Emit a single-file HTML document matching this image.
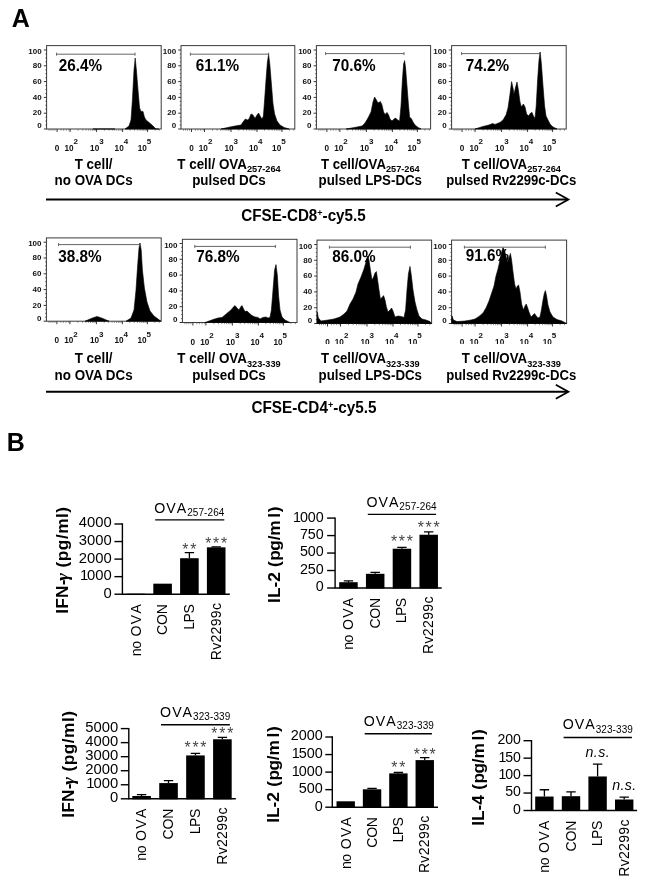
<!DOCTYPE html>
<html><head><meta charset="utf-8"><title>Figure</title>
<style>html,body{margin:0;padding:0;background:#fff}svg{display:block;will-change:transform}text{font-family:"Liberation Sans", sans-serif}</style>
</head><body>
<svg width="650" height="886" viewBox="0 0 650 886">
<rect width="650" height="886" fill="#fff"/>
<text transform="translate(11.8,27.4) scale(1,1.04)" font-size="25" font-weight="bold">A</text>
<text transform="translate(6.8,451) scale(1,1.04)" font-size="25" font-weight="bold">B</text>
<rect x="46.6" y="45.6" width="114.6" height="83.4" fill="#fff" stroke="#3a3a3a" stroke-width="1"/>
<line x1="43.8" y1="129.0" x2="46.6" y2="129.0" stroke="#222" stroke-width="0.9"/>
<line x1="45.4" y1="125.0" x2="46.6" y2="125.0" stroke="#222" stroke-width="0.7"/>
<line x1="45.4" y1="121.1" x2="46.6" y2="121.1" stroke="#222" stroke-width="0.7"/>
<line x1="45.4" y1="117.2" x2="46.6" y2="117.2" stroke="#222" stroke-width="0.7"/>
<line x1="43.8" y1="113.2" x2="46.6" y2="113.2" stroke="#222" stroke-width="0.9"/>
<line x1="45.4" y1="109.2" x2="46.6" y2="109.2" stroke="#222" stroke-width="0.7"/>
<line x1="45.4" y1="105.3" x2="46.6" y2="105.3" stroke="#222" stroke-width="0.7"/>
<line x1="45.4" y1="101.3" x2="46.6" y2="101.3" stroke="#222" stroke-width="0.7"/>
<line x1="43.8" y1="97.4" x2="46.6" y2="97.4" stroke="#222" stroke-width="0.9"/>
<line x1="45.4" y1="93.5" x2="46.6" y2="93.5" stroke="#222" stroke-width="0.7"/>
<line x1="45.4" y1="89.5" x2="46.6" y2="89.5" stroke="#222" stroke-width="0.7"/>
<line x1="45.4" y1="85.5" x2="46.6" y2="85.5" stroke="#222" stroke-width="0.7"/>
<line x1="43.8" y1="81.6" x2="46.6" y2="81.6" stroke="#222" stroke-width="0.9"/>
<line x1="45.4" y1="77.7" x2="46.6" y2="77.7" stroke="#222" stroke-width="0.7"/>
<line x1="45.4" y1="73.7" x2="46.6" y2="73.7" stroke="#222" stroke-width="0.7"/>
<line x1="45.4" y1="69.8" x2="46.6" y2="69.8" stroke="#222" stroke-width="0.7"/>
<line x1="43.8" y1="65.8" x2="46.6" y2="65.8" stroke="#222" stroke-width="0.9"/>
<line x1="45.4" y1="61.8" x2="46.6" y2="61.8" stroke="#222" stroke-width="0.7"/>
<line x1="45.4" y1="57.9" x2="46.6" y2="57.9" stroke="#222" stroke-width="0.7"/>
<line x1="45.4" y1="54.0" x2="46.6" y2="54.0" stroke="#222" stroke-width="0.7"/>
<line x1="43.8" y1="50.0" x2="46.6" y2="50.0" stroke="#222" stroke-width="0.9"/>
<text x="41.7" y="128.3" font-size="8" font-weight="bold" text-anchor="end" fill="#111">0</text>
<text x="41.7" y="115.4" font-size="8" font-weight="bold" text-anchor="end" fill="#111">20</text>
<text x="41.7" y="99.6" font-size="8" font-weight="bold" text-anchor="end" fill="#111">40</text>
<text x="41.7" y="83.8" font-size="8" font-weight="bold" text-anchor="end" fill="#111">60</text>
<text x="41.7" y="68.0" font-size="8" font-weight="bold" text-anchor="end" fill="#111">80</text>
<text x="41.7" y="54.2" font-size="8" font-weight="bold" text-anchor="end" fill="#111">100</text>
<line x1="57.1" y1="129.0" x2="57.1" y2="132.0" stroke="#222" stroke-width="0.9"/>
<line x1="70.1" y1="129.0" x2="70.1" y2="132.0" stroke="#222" stroke-width="0.9"/>
<line x1="96.6" y1="129.0" x2="96.6" y2="132.0" stroke="#222" stroke-width="0.9"/>
<line x1="122.6" y1="129.0" x2="122.6" y2="132.0" stroke="#222" stroke-width="0.9"/>
<line x1="147.6" y1="129.0" x2="147.6" y2="132.0" stroke="#222" stroke-width="0.9"/>
<line x1="78.1" y1="129.0" x2="78.1" y2="130.7" stroke="#444" stroke-width="0.6"/>
<line x1="82.7" y1="129.0" x2="82.7" y2="130.7" stroke="#444" stroke-width="0.6"/>
<line x1="86.1" y1="129.0" x2="86.1" y2="130.7" stroke="#444" stroke-width="0.6"/>
<line x1="88.6" y1="129.0" x2="88.6" y2="130.7" stroke="#444" stroke-width="0.6"/>
<line x1="90.7" y1="129.0" x2="90.7" y2="130.7" stroke="#444" stroke-width="0.6"/>
<line x1="92.5" y1="129.0" x2="92.5" y2="130.7" stroke="#444" stroke-width="0.6"/>
<line x1="94.0" y1="129.0" x2="94.0" y2="130.7" stroke="#444" stroke-width="0.6"/>
<line x1="95.4" y1="129.0" x2="95.4" y2="130.7" stroke="#444" stroke-width="0.6"/>
<line x1="104.4" y1="129.0" x2="104.4" y2="130.7" stroke="#444" stroke-width="0.6"/>
<line x1="109.0" y1="129.0" x2="109.0" y2="130.7" stroke="#444" stroke-width="0.6"/>
<line x1="112.3" y1="129.0" x2="112.3" y2="130.7" stroke="#444" stroke-width="0.6"/>
<line x1="114.8" y1="129.0" x2="114.8" y2="130.7" stroke="#444" stroke-width="0.6"/>
<line x1="116.8" y1="129.0" x2="116.8" y2="130.7" stroke="#444" stroke-width="0.6"/>
<line x1="118.6" y1="129.0" x2="118.6" y2="130.7" stroke="#444" stroke-width="0.6"/>
<line x1="120.1" y1="129.0" x2="120.1" y2="130.7" stroke="#444" stroke-width="0.6"/>
<line x1="121.4" y1="129.0" x2="121.4" y2="130.7" stroke="#444" stroke-width="0.6"/>
<line x1="130.1" y1="129.0" x2="130.1" y2="130.7" stroke="#444" stroke-width="0.6"/>
<line x1="134.5" y1="129.0" x2="134.5" y2="130.7" stroke="#444" stroke-width="0.6"/>
<line x1="137.7" y1="129.0" x2="137.7" y2="130.7" stroke="#444" stroke-width="0.6"/>
<line x1="140.1" y1="129.0" x2="140.1" y2="130.7" stroke="#444" stroke-width="0.6"/>
<line x1="142.1" y1="129.0" x2="142.1" y2="130.7" stroke="#444" stroke-width="0.6"/>
<line x1="143.7" y1="129.0" x2="143.7" y2="130.7" stroke="#444" stroke-width="0.6"/>
<line x1="145.2" y1="129.0" x2="145.2" y2="130.7" stroke="#444" stroke-width="0.6"/>
<line x1="146.5" y1="129.0" x2="146.5" y2="130.7" stroke="#444" stroke-width="0.6"/>
<line x1="155.1" y1="129.0" x2="155.1" y2="130.7" stroke="#444" stroke-width="0.6"/>
<line x1="159.5" y1="129.0" x2="159.5" y2="130.7" stroke="#444" stroke-width="0.6"/>
<line x1="61.0" y1="129.0" x2="61.0" y2="130.7" stroke="#444" stroke-width="0.6"/>
<line x1="63.6" y1="129.0" x2="63.6" y2="130.7" stroke="#444" stroke-width="0.6"/>
<line x1="66.2" y1="129.0" x2="66.2" y2="130.7" stroke="#444" stroke-width="0.6"/>
<line x1="68.8" y1="129.0" x2="68.8" y2="130.7" stroke="#444" stroke-width="0.6"/>
<line x1="55.1" y1="129.0" x2="55.1" y2="130.7" stroke="#444" stroke-width="0.6"/>
<line x1="53.1" y1="129.0" x2="53.1" y2="130.7" stroke="#444" stroke-width="0.6"/>
<line x1="51.1" y1="129.0" x2="51.1" y2="130.7" stroke="#444" stroke-width="0.6"/>
<line x1="49.1" y1="129.0" x2="49.1" y2="130.7" stroke="#444" stroke-width="0.6"/>
<text x="57.1" y="151.0" font-size="8.2" font-weight="bold" text-anchor="middle" fill="#111">0</text>
<text x="64.4" y="151.0" font-size="8.2" font-weight="bold" fill="#111">10<tspan dy="-6.6" dx="0" font-size="8">2</tspan></text>
<text x="90.1" y="151.0" font-size="8.2" font-weight="bold" fill="#111">10<tspan dy="-6.6" dx="0" font-size="8">3</tspan></text>
<text x="114.6" y="151.0" font-size="8.2" font-weight="bold" fill="#111">10<tspan dy="-6.6" dx="0" font-size="8">4</tspan></text>
<text x="137.7" y="151.0" font-size="8.2" font-weight="bold" fill="#111">10<tspan dy="-6.6" dx="0" font-size="8">5</tspan></text>
<polygon points="125.0,129.0 129.0,126.0 131.0,120.0 132.4,100.0 134.0,70.0 135.2,58.0 136.4,70.0 138.0,90.0 139.6,108.0 141.0,111.4 143.0,111.4 144.4,117.0 146.0,120.0 149.0,122.4 152.0,125.0 156.0,129.0 159.0,129.0" fill="#000" stroke="#000" stroke-width="0.6" stroke-linejoin="round"/>
<polygon points="93.0,129.0 98.0,129.0 104.0,129.0 110.0,129.0 115.0,129.0" fill="#000" stroke="#000" stroke-width="0.6" stroke-linejoin="round"/>
<path d="M56.6 54.2H135.0M56.6 52.7v3M135.0 52.7v3" stroke="#555" stroke-width="0.9" fill="none"/>
<text transform="translate(58.7,70.6) scale(1,1.06)" font-size="15.3" font-weight="bold" fill="#000">26.4%</text>
<rect x="181.0" y="45.6" width="113.8" height="83.4" fill="#fff" stroke="#3a3a3a" stroke-width="1"/>
<line x1="178.2" y1="129.0" x2="181.0" y2="129.0" stroke="#222" stroke-width="0.9"/>
<line x1="179.8" y1="125.0" x2="181.0" y2="125.0" stroke="#222" stroke-width="0.7"/>
<line x1="179.8" y1="121.1" x2="181.0" y2="121.1" stroke="#222" stroke-width="0.7"/>
<line x1="179.8" y1="117.2" x2="181.0" y2="117.2" stroke="#222" stroke-width="0.7"/>
<line x1="178.2" y1="113.2" x2="181.0" y2="113.2" stroke="#222" stroke-width="0.9"/>
<line x1="179.8" y1="109.2" x2="181.0" y2="109.2" stroke="#222" stroke-width="0.7"/>
<line x1="179.8" y1="105.3" x2="181.0" y2="105.3" stroke="#222" stroke-width="0.7"/>
<line x1="179.8" y1="101.3" x2="181.0" y2="101.3" stroke="#222" stroke-width="0.7"/>
<line x1="178.2" y1="97.4" x2="181.0" y2="97.4" stroke="#222" stroke-width="0.9"/>
<line x1="179.8" y1="93.5" x2="181.0" y2="93.5" stroke="#222" stroke-width="0.7"/>
<line x1="179.8" y1="89.5" x2="181.0" y2="89.5" stroke="#222" stroke-width="0.7"/>
<line x1="179.8" y1="85.5" x2="181.0" y2="85.5" stroke="#222" stroke-width="0.7"/>
<line x1="178.2" y1="81.6" x2="181.0" y2="81.6" stroke="#222" stroke-width="0.9"/>
<line x1="179.8" y1="77.7" x2="181.0" y2="77.7" stroke="#222" stroke-width="0.7"/>
<line x1="179.8" y1="73.7" x2="181.0" y2="73.7" stroke="#222" stroke-width="0.7"/>
<line x1="179.8" y1="69.8" x2="181.0" y2="69.8" stroke="#222" stroke-width="0.7"/>
<line x1="178.2" y1="65.8" x2="181.0" y2="65.8" stroke="#222" stroke-width="0.9"/>
<line x1="179.8" y1="61.8" x2="181.0" y2="61.8" stroke="#222" stroke-width="0.7"/>
<line x1="179.8" y1="57.9" x2="181.0" y2="57.9" stroke="#222" stroke-width="0.7"/>
<line x1="179.8" y1="54.0" x2="181.0" y2="54.0" stroke="#222" stroke-width="0.7"/>
<line x1="178.2" y1="50.0" x2="181.0" y2="50.0" stroke="#222" stroke-width="0.9"/>
<text x="176.1" y="128.3" font-size="8" font-weight="bold" text-anchor="end" fill="#111">0</text>
<text x="176.1" y="115.4" font-size="8" font-weight="bold" text-anchor="end" fill="#111">20</text>
<text x="176.1" y="99.6" font-size="8" font-weight="bold" text-anchor="end" fill="#111">40</text>
<text x="176.1" y="83.8" font-size="8" font-weight="bold" text-anchor="end" fill="#111">60</text>
<text x="176.1" y="68.0" font-size="8" font-weight="bold" text-anchor="end" fill="#111">80</text>
<text x="176.1" y="54.2" font-size="8" font-weight="bold" text-anchor="end" fill="#111">100</text>
<line x1="191.5" y1="129.0" x2="191.5" y2="132.0" stroke="#222" stroke-width="0.9"/>
<line x1="204.5" y1="129.0" x2="204.5" y2="132.0" stroke="#222" stroke-width="0.9"/>
<line x1="231.0" y1="129.0" x2="231.0" y2="132.0" stroke="#222" stroke-width="0.9"/>
<line x1="257.0" y1="129.0" x2="257.0" y2="132.0" stroke="#222" stroke-width="0.9"/>
<line x1="282.0" y1="129.0" x2="282.0" y2="132.0" stroke="#222" stroke-width="0.9"/>
<line x1="212.5" y1="129.0" x2="212.5" y2="130.7" stroke="#444" stroke-width="0.6"/>
<line x1="217.1" y1="129.0" x2="217.1" y2="130.7" stroke="#444" stroke-width="0.6"/>
<line x1="220.5" y1="129.0" x2="220.5" y2="130.7" stroke="#444" stroke-width="0.6"/>
<line x1="223.0" y1="129.0" x2="223.0" y2="130.7" stroke="#444" stroke-width="0.6"/>
<line x1="225.1" y1="129.0" x2="225.1" y2="130.7" stroke="#444" stroke-width="0.6"/>
<line x1="226.9" y1="129.0" x2="226.9" y2="130.7" stroke="#444" stroke-width="0.6"/>
<line x1="228.4" y1="129.0" x2="228.4" y2="130.7" stroke="#444" stroke-width="0.6"/>
<line x1="229.8" y1="129.0" x2="229.8" y2="130.7" stroke="#444" stroke-width="0.6"/>
<line x1="238.8" y1="129.0" x2="238.8" y2="130.7" stroke="#444" stroke-width="0.6"/>
<line x1="243.4" y1="129.0" x2="243.4" y2="130.7" stroke="#444" stroke-width="0.6"/>
<line x1="246.7" y1="129.0" x2="246.7" y2="130.7" stroke="#444" stroke-width="0.6"/>
<line x1="249.2" y1="129.0" x2="249.2" y2="130.7" stroke="#444" stroke-width="0.6"/>
<line x1="251.2" y1="129.0" x2="251.2" y2="130.7" stroke="#444" stroke-width="0.6"/>
<line x1="253.0" y1="129.0" x2="253.0" y2="130.7" stroke="#444" stroke-width="0.6"/>
<line x1="254.5" y1="129.0" x2="254.5" y2="130.7" stroke="#444" stroke-width="0.6"/>
<line x1="255.8" y1="129.0" x2="255.8" y2="130.7" stroke="#444" stroke-width="0.6"/>
<line x1="264.5" y1="129.0" x2="264.5" y2="130.7" stroke="#444" stroke-width="0.6"/>
<line x1="268.9" y1="129.0" x2="268.9" y2="130.7" stroke="#444" stroke-width="0.6"/>
<line x1="272.1" y1="129.0" x2="272.1" y2="130.7" stroke="#444" stroke-width="0.6"/>
<line x1="274.5" y1="129.0" x2="274.5" y2="130.7" stroke="#444" stroke-width="0.6"/>
<line x1="276.5" y1="129.0" x2="276.5" y2="130.7" stroke="#444" stroke-width="0.6"/>
<line x1="278.1" y1="129.0" x2="278.1" y2="130.7" stroke="#444" stroke-width="0.6"/>
<line x1="279.6" y1="129.0" x2="279.6" y2="130.7" stroke="#444" stroke-width="0.6"/>
<line x1="280.9" y1="129.0" x2="280.9" y2="130.7" stroke="#444" stroke-width="0.6"/>
<line x1="289.5" y1="129.0" x2="289.5" y2="130.7" stroke="#444" stroke-width="0.6"/>
<line x1="293.9" y1="129.0" x2="293.9" y2="130.7" stroke="#444" stroke-width="0.6"/>
<line x1="195.4" y1="129.0" x2="195.4" y2="130.7" stroke="#444" stroke-width="0.6"/>
<line x1="198.0" y1="129.0" x2="198.0" y2="130.7" stroke="#444" stroke-width="0.6"/>
<line x1="200.6" y1="129.0" x2="200.6" y2="130.7" stroke="#444" stroke-width="0.6"/>
<line x1="203.2" y1="129.0" x2="203.2" y2="130.7" stroke="#444" stroke-width="0.6"/>
<line x1="189.5" y1="129.0" x2="189.5" y2="130.7" stroke="#444" stroke-width="0.6"/>
<line x1="187.5" y1="129.0" x2="187.5" y2="130.7" stroke="#444" stroke-width="0.6"/>
<line x1="185.5" y1="129.0" x2="185.5" y2="130.7" stroke="#444" stroke-width="0.6"/>
<line x1="183.5" y1="129.0" x2="183.5" y2="130.7" stroke="#444" stroke-width="0.6"/>
<text x="191.5" y="151.0" font-size="8.2" font-weight="bold" text-anchor="middle" fill="#111">0</text>
<text x="198.8" y="151.0" font-size="8.2" font-weight="bold" fill="#111">10<tspan dy="-6.6" dx="0" font-size="8">2</tspan></text>
<text x="224.5" y="151.0" font-size="8.2" font-weight="bold" fill="#111">10<tspan dy="-6.6" dx="0" font-size="8">3</tspan></text>
<text x="249.0" y="151.0" font-size="8.2" font-weight="bold" fill="#111">10<tspan dy="-6.6" dx="0" font-size="8">4</tspan></text>
<text x="272.1" y="151.0" font-size="8.2" font-weight="bold" fill="#111">10<tspan dy="-6.6" dx="0" font-size="8">5</tspan></text>
<polygon points="221.0,129.0 229.0,127.2 235.0,126.0 241.0,125.0 243.0,122.0 245.4,119.0 247.4,120.0 249.0,119.0 251.0,114.0 253.0,115.0 255.0,118.4 257.0,115.0 258.6,113.0 260.6,117.0 262.0,119.0 263.4,116.0 264.6,100.0 266.0,80.0 267.4,62.0 268.6,54.4 269.8,64.0 271.4,84.0 273.0,104.0 274.6,114.0 277.0,121.0 280.0,125.0 284.0,127.4 289.0,129.0" fill="#000" stroke="#000" stroke-width="0.6" stroke-linejoin="round"/>
<path d="M190.4 54.2H268.6M190.4 52.7v3M268.6 52.7v3" stroke="#555" stroke-width="0.9" fill="none"/>
<text transform="translate(195.7,70.6) scale(1,1.06)" font-size="15.3" font-weight="bold" fill="#000">61.1%</text>
<rect x="316.4" y="45.6" width="114.2" height="83.4" fill="#fff" stroke="#3a3a3a" stroke-width="1"/>
<line x1="313.6" y1="129.0" x2="316.4" y2="129.0" stroke="#222" stroke-width="0.9"/>
<line x1="315.2" y1="125.0" x2="316.4" y2="125.0" stroke="#222" stroke-width="0.7"/>
<line x1="315.2" y1="121.1" x2="316.4" y2="121.1" stroke="#222" stroke-width="0.7"/>
<line x1="315.2" y1="117.2" x2="316.4" y2="117.2" stroke="#222" stroke-width="0.7"/>
<line x1="313.6" y1="113.2" x2="316.4" y2="113.2" stroke="#222" stroke-width="0.9"/>
<line x1="315.2" y1="109.2" x2="316.4" y2="109.2" stroke="#222" stroke-width="0.7"/>
<line x1="315.2" y1="105.3" x2="316.4" y2="105.3" stroke="#222" stroke-width="0.7"/>
<line x1="315.2" y1="101.3" x2="316.4" y2="101.3" stroke="#222" stroke-width="0.7"/>
<line x1="313.6" y1="97.4" x2="316.4" y2="97.4" stroke="#222" stroke-width="0.9"/>
<line x1="315.2" y1="93.5" x2="316.4" y2="93.5" stroke="#222" stroke-width="0.7"/>
<line x1="315.2" y1="89.5" x2="316.4" y2="89.5" stroke="#222" stroke-width="0.7"/>
<line x1="315.2" y1="85.5" x2="316.4" y2="85.5" stroke="#222" stroke-width="0.7"/>
<line x1="313.6" y1="81.6" x2="316.4" y2="81.6" stroke="#222" stroke-width="0.9"/>
<line x1="315.2" y1="77.7" x2="316.4" y2="77.7" stroke="#222" stroke-width="0.7"/>
<line x1="315.2" y1="73.7" x2="316.4" y2="73.7" stroke="#222" stroke-width="0.7"/>
<line x1="315.2" y1="69.8" x2="316.4" y2="69.8" stroke="#222" stroke-width="0.7"/>
<line x1="313.6" y1="65.8" x2="316.4" y2="65.8" stroke="#222" stroke-width="0.9"/>
<line x1="315.2" y1="61.8" x2="316.4" y2="61.8" stroke="#222" stroke-width="0.7"/>
<line x1="315.2" y1="57.9" x2="316.4" y2="57.9" stroke="#222" stroke-width="0.7"/>
<line x1="315.2" y1="54.0" x2="316.4" y2="54.0" stroke="#222" stroke-width="0.7"/>
<line x1="313.6" y1="50.0" x2="316.4" y2="50.0" stroke="#222" stroke-width="0.9"/>
<text x="311.5" y="128.3" font-size="8" font-weight="bold" text-anchor="end" fill="#111">0</text>
<text x="311.5" y="115.4" font-size="8" font-weight="bold" text-anchor="end" fill="#111">20</text>
<text x="311.5" y="99.6" font-size="8" font-weight="bold" text-anchor="end" fill="#111">40</text>
<text x="311.5" y="83.8" font-size="8" font-weight="bold" text-anchor="end" fill="#111">60</text>
<text x="311.5" y="68.0" font-size="8" font-weight="bold" text-anchor="end" fill="#111">80</text>
<text x="311.5" y="54.2" font-size="8" font-weight="bold" text-anchor="end" fill="#111">100</text>
<line x1="326.9" y1="129.0" x2="326.9" y2="132.0" stroke="#222" stroke-width="0.9"/>
<line x1="339.9" y1="129.0" x2="339.9" y2="132.0" stroke="#222" stroke-width="0.9"/>
<line x1="366.4" y1="129.0" x2="366.4" y2="132.0" stroke="#222" stroke-width="0.9"/>
<line x1="392.4" y1="129.0" x2="392.4" y2="132.0" stroke="#222" stroke-width="0.9"/>
<line x1="417.4" y1="129.0" x2="417.4" y2="132.0" stroke="#222" stroke-width="0.9"/>
<line x1="347.9" y1="129.0" x2="347.9" y2="130.7" stroke="#444" stroke-width="0.6"/>
<line x1="352.5" y1="129.0" x2="352.5" y2="130.7" stroke="#444" stroke-width="0.6"/>
<line x1="355.9" y1="129.0" x2="355.9" y2="130.7" stroke="#444" stroke-width="0.6"/>
<line x1="358.4" y1="129.0" x2="358.4" y2="130.7" stroke="#444" stroke-width="0.6"/>
<line x1="360.5" y1="129.0" x2="360.5" y2="130.7" stroke="#444" stroke-width="0.6"/>
<line x1="362.3" y1="129.0" x2="362.3" y2="130.7" stroke="#444" stroke-width="0.6"/>
<line x1="363.8" y1="129.0" x2="363.8" y2="130.7" stroke="#444" stroke-width="0.6"/>
<line x1="365.2" y1="129.0" x2="365.2" y2="130.7" stroke="#444" stroke-width="0.6"/>
<line x1="374.2" y1="129.0" x2="374.2" y2="130.7" stroke="#444" stroke-width="0.6"/>
<line x1="378.8" y1="129.0" x2="378.8" y2="130.7" stroke="#444" stroke-width="0.6"/>
<line x1="382.1" y1="129.0" x2="382.1" y2="130.7" stroke="#444" stroke-width="0.6"/>
<line x1="384.6" y1="129.0" x2="384.6" y2="130.7" stroke="#444" stroke-width="0.6"/>
<line x1="386.6" y1="129.0" x2="386.6" y2="130.7" stroke="#444" stroke-width="0.6"/>
<line x1="388.4" y1="129.0" x2="388.4" y2="130.7" stroke="#444" stroke-width="0.6"/>
<line x1="389.9" y1="129.0" x2="389.9" y2="130.7" stroke="#444" stroke-width="0.6"/>
<line x1="391.2" y1="129.0" x2="391.2" y2="130.7" stroke="#444" stroke-width="0.6"/>
<line x1="399.9" y1="129.0" x2="399.9" y2="130.7" stroke="#444" stroke-width="0.6"/>
<line x1="404.3" y1="129.0" x2="404.3" y2="130.7" stroke="#444" stroke-width="0.6"/>
<line x1="407.5" y1="129.0" x2="407.5" y2="130.7" stroke="#444" stroke-width="0.6"/>
<line x1="409.9" y1="129.0" x2="409.9" y2="130.7" stroke="#444" stroke-width="0.6"/>
<line x1="411.9" y1="129.0" x2="411.9" y2="130.7" stroke="#444" stroke-width="0.6"/>
<line x1="413.5" y1="129.0" x2="413.5" y2="130.7" stroke="#444" stroke-width="0.6"/>
<line x1="415.0" y1="129.0" x2="415.0" y2="130.7" stroke="#444" stroke-width="0.6"/>
<line x1="416.3" y1="129.0" x2="416.3" y2="130.7" stroke="#444" stroke-width="0.6"/>
<line x1="424.9" y1="129.0" x2="424.9" y2="130.7" stroke="#444" stroke-width="0.6"/>
<line x1="429.3" y1="129.0" x2="429.3" y2="130.7" stroke="#444" stroke-width="0.6"/>
<line x1="330.8" y1="129.0" x2="330.8" y2="130.7" stroke="#444" stroke-width="0.6"/>
<line x1="333.4" y1="129.0" x2="333.4" y2="130.7" stroke="#444" stroke-width="0.6"/>
<line x1="336.0" y1="129.0" x2="336.0" y2="130.7" stroke="#444" stroke-width="0.6"/>
<line x1="338.6" y1="129.0" x2="338.6" y2="130.7" stroke="#444" stroke-width="0.6"/>
<line x1="324.9" y1="129.0" x2="324.9" y2="130.7" stroke="#444" stroke-width="0.6"/>
<line x1="322.9" y1="129.0" x2="322.9" y2="130.7" stroke="#444" stroke-width="0.6"/>
<line x1="320.9" y1="129.0" x2="320.9" y2="130.7" stroke="#444" stroke-width="0.6"/>
<line x1="318.9" y1="129.0" x2="318.9" y2="130.7" stroke="#444" stroke-width="0.6"/>
<text x="326.9" y="151.0" font-size="8.2" font-weight="bold" text-anchor="middle" fill="#111">0</text>
<text x="334.2" y="151.0" font-size="8.2" font-weight="bold" fill="#111">10<tspan dy="-6.6" dx="0" font-size="8">2</tspan></text>
<text x="359.9" y="151.0" font-size="8.2" font-weight="bold" fill="#111">10<tspan dy="-6.6" dx="0" font-size="8">3</tspan></text>
<text x="384.4" y="151.0" font-size="8.2" font-weight="bold" fill="#111">10<tspan dy="-6.6" dx="0" font-size="8">4</tspan></text>
<text x="407.5" y="151.0" font-size="8.2" font-weight="bold" fill="#111">10<tspan dy="-6.6" dx="0" font-size="8">5</tspan></text>
<polygon points="346.0,129.0 356.0,127.2 362.0,126.0 365.0,123.0 368.0,118.0 371.0,112.0 373.0,102.0 374.6,97.0 376.4,100.0 378.0,103.0 380.4,101.6 382.0,105.0 383.6,112.0 385.0,114.4 387.0,112.4 388.6,115.0 390.0,119.0 392.0,121.0 394.0,119.0 395.6,118.0 397.6,120.0 399.6,121.0 401.0,106.0 402.4,80.0 403.6,64.0 404.6,60.6 405.6,68.0 407.0,86.0 408.4,104.0 409.6,117.0 411.6,119.0 413.0,122.0 415.0,125.0 418.0,127.4 421.0,129.0" fill="#000" stroke="#000" stroke-width="0.6" stroke-linejoin="round"/>
<path d="M325.6 53.6H404.0M325.6 52.1v3M404.0 52.1v3" stroke="#555" stroke-width="0.9" fill="none"/>
<text transform="translate(332.3,70.6) scale(1,1.06)" font-size="15.3" font-weight="bold" fill="#000">70.6%</text>
<rect x="451.6" y="45.6" width="114.6" height="83.4" fill="#fff" stroke="#3a3a3a" stroke-width="1"/>
<line x1="448.8" y1="129.0" x2="451.6" y2="129.0" stroke="#222" stroke-width="0.9"/>
<line x1="450.4" y1="125.0" x2="451.6" y2="125.0" stroke="#222" stroke-width="0.7"/>
<line x1="450.4" y1="121.1" x2="451.6" y2="121.1" stroke="#222" stroke-width="0.7"/>
<line x1="450.4" y1="117.2" x2="451.6" y2="117.2" stroke="#222" stroke-width="0.7"/>
<line x1="448.8" y1="113.2" x2="451.6" y2="113.2" stroke="#222" stroke-width="0.9"/>
<line x1="450.4" y1="109.2" x2="451.6" y2="109.2" stroke="#222" stroke-width="0.7"/>
<line x1="450.4" y1="105.3" x2="451.6" y2="105.3" stroke="#222" stroke-width="0.7"/>
<line x1="450.4" y1="101.3" x2="451.6" y2="101.3" stroke="#222" stroke-width="0.7"/>
<line x1="448.8" y1="97.4" x2="451.6" y2="97.4" stroke="#222" stroke-width="0.9"/>
<line x1="450.4" y1="93.5" x2="451.6" y2="93.5" stroke="#222" stroke-width="0.7"/>
<line x1="450.4" y1="89.5" x2="451.6" y2="89.5" stroke="#222" stroke-width="0.7"/>
<line x1="450.4" y1="85.5" x2="451.6" y2="85.5" stroke="#222" stroke-width="0.7"/>
<line x1="448.8" y1="81.6" x2="451.6" y2="81.6" stroke="#222" stroke-width="0.9"/>
<line x1="450.4" y1="77.7" x2="451.6" y2="77.7" stroke="#222" stroke-width="0.7"/>
<line x1="450.4" y1="73.7" x2="451.6" y2="73.7" stroke="#222" stroke-width="0.7"/>
<line x1="450.4" y1="69.8" x2="451.6" y2="69.8" stroke="#222" stroke-width="0.7"/>
<line x1="448.8" y1="65.8" x2="451.6" y2="65.8" stroke="#222" stroke-width="0.9"/>
<line x1="450.4" y1="61.8" x2="451.6" y2="61.8" stroke="#222" stroke-width="0.7"/>
<line x1="450.4" y1="57.9" x2="451.6" y2="57.9" stroke="#222" stroke-width="0.7"/>
<line x1="450.4" y1="54.0" x2="451.6" y2="54.0" stroke="#222" stroke-width="0.7"/>
<line x1="448.8" y1="50.0" x2="451.6" y2="50.0" stroke="#222" stroke-width="0.9"/>
<text x="446.7" y="128.3" font-size="8" font-weight="bold" text-anchor="end" fill="#111">0</text>
<text x="446.7" y="115.4" font-size="8" font-weight="bold" text-anchor="end" fill="#111">20</text>
<text x="446.7" y="99.6" font-size="8" font-weight="bold" text-anchor="end" fill="#111">40</text>
<text x="446.7" y="83.8" font-size="8" font-weight="bold" text-anchor="end" fill="#111">60</text>
<text x="446.7" y="68.0" font-size="8" font-weight="bold" text-anchor="end" fill="#111">80</text>
<text x="446.7" y="54.2" font-size="8" font-weight="bold" text-anchor="end" fill="#111">100</text>
<line x1="462.1" y1="129.0" x2="462.1" y2="132.0" stroke="#222" stroke-width="0.9"/>
<line x1="475.1" y1="129.0" x2="475.1" y2="132.0" stroke="#222" stroke-width="0.9"/>
<line x1="501.6" y1="129.0" x2="501.6" y2="132.0" stroke="#222" stroke-width="0.9"/>
<line x1="527.6" y1="129.0" x2="527.6" y2="132.0" stroke="#222" stroke-width="0.9"/>
<line x1="552.6" y1="129.0" x2="552.6" y2="132.0" stroke="#222" stroke-width="0.9"/>
<line x1="483.1" y1="129.0" x2="483.1" y2="130.7" stroke="#444" stroke-width="0.6"/>
<line x1="487.7" y1="129.0" x2="487.7" y2="130.7" stroke="#444" stroke-width="0.6"/>
<line x1="491.1" y1="129.0" x2="491.1" y2="130.7" stroke="#444" stroke-width="0.6"/>
<line x1="493.6" y1="129.0" x2="493.6" y2="130.7" stroke="#444" stroke-width="0.6"/>
<line x1="495.7" y1="129.0" x2="495.7" y2="130.7" stroke="#444" stroke-width="0.6"/>
<line x1="497.5" y1="129.0" x2="497.5" y2="130.7" stroke="#444" stroke-width="0.6"/>
<line x1="499.0" y1="129.0" x2="499.0" y2="130.7" stroke="#444" stroke-width="0.6"/>
<line x1="500.4" y1="129.0" x2="500.4" y2="130.7" stroke="#444" stroke-width="0.6"/>
<line x1="509.4" y1="129.0" x2="509.4" y2="130.7" stroke="#444" stroke-width="0.6"/>
<line x1="514.0" y1="129.0" x2="514.0" y2="130.7" stroke="#444" stroke-width="0.6"/>
<line x1="517.3" y1="129.0" x2="517.3" y2="130.7" stroke="#444" stroke-width="0.6"/>
<line x1="519.8" y1="129.0" x2="519.8" y2="130.7" stroke="#444" stroke-width="0.6"/>
<line x1="521.8" y1="129.0" x2="521.8" y2="130.7" stroke="#444" stroke-width="0.6"/>
<line x1="523.6" y1="129.0" x2="523.6" y2="130.7" stroke="#444" stroke-width="0.6"/>
<line x1="525.1" y1="129.0" x2="525.1" y2="130.7" stroke="#444" stroke-width="0.6"/>
<line x1="526.4" y1="129.0" x2="526.4" y2="130.7" stroke="#444" stroke-width="0.6"/>
<line x1="535.1" y1="129.0" x2="535.1" y2="130.7" stroke="#444" stroke-width="0.6"/>
<line x1="539.5" y1="129.0" x2="539.5" y2="130.7" stroke="#444" stroke-width="0.6"/>
<line x1="542.7" y1="129.0" x2="542.7" y2="130.7" stroke="#444" stroke-width="0.6"/>
<line x1="545.1" y1="129.0" x2="545.1" y2="130.7" stroke="#444" stroke-width="0.6"/>
<line x1="547.1" y1="129.0" x2="547.1" y2="130.7" stroke="#444" stroke-width="0.6"/>
<line x1="548.7" y1="129.0" x2="548.7" y2="130.7" stroke="#444" stroke-width="0.6"/>
<line x1="550.2" y1="129.0" x2="550.2" y2="130.7" stroke="#444" stroke-width="0.6"/>
<line x1="551.5" y1="129.0" x2="551.5" y2="130.7" stroke="#444" stroke-width="0.6"/>
<line x1="560.1" y1="129.0" x2="560.1" y2="130.7" stroke="#444" stroke-width="0.6"/>
<line x1="564.5" y1="129.0" x2="564.5" y2="130.7" stroke="#444" stroke-width="0.6"/>
<line x1="466.0" y1="129.0" x2="466.0" y2="130.7" stroke="#444" stroke-width="0.6"/>
<line x1="468.6" y1="129.0" x2="468.6" y2="130.7" stroke="#444" stroke-width="0.6"/>
<line x1="471.2" y1="129.0" x2="471.2" y2="130.7" stroke="#444" stroke-width="0.6"/>
<line x1="473.8" y1="129.0" x2="473.8" y2="130.7" stroke="#444" stroke-width="0.6"/>
<line x1="460.1" y1="129.0" x2="460.1" y2="130.7" stroke="#444" stroke-width="0.6"/>
<line x1="458.1" y1="129.0" x2="458.1" y2="130.7" stroke="#444" stroke-width="0.6"/>
<line x1="456.1" y1="129.0" x2="456.1" y2="130.7" stroke="#444" stroke-width="0.6"/>
<line x1="454.1" y1="129.0" x2="454.1" y2="130.7" stroke="#444" stroke-width="0.6"/>
<text x="462.1" y="151.0" font-size="8.2" font-weight="bold" text-anchor="middle" fill="#111">0</text>
<text x="469.4" y="151.0" font-size="8.2" font-weight="bold" fill="#111">10<tspan dy="-6.6" dx="0" font-size="8">2</tspan></text>
<text x="495.1" y="151.0" font-size="8.2" font-weight="bold" fill="#111">10<tspan dy="-6.6" dx="0" font-size="8">3</tspan></text>
<text x="519.6" y="151.0" font-size="8.2" font-weight="bold" fill="#111">10<tspan dy="-6.6" dx="0" font-size="8">4</tspan></text>
<text x="542.7" y="151.0" font-size="8.2" font-weight="bold" fill="#111">10<tspan dy="-6.6" dx="0" font-size="8">5</tspan></text>
<polygon points="475.0,129.0 483.0,126.4 489.0,125.0 492.6,123.6 495.0,124.4 500.0,122.4 503.0,120.0 506.0,115.0 508.0,108.0 510.0,94.0 511.6,81.6 513.0,88.0 514.0,94.0 515.4,88.0 517.0,82.0 518.4,90.0 520.0,102.0 521.4,107.0 523.4,104.0 525.0,107.0 526.6,114.0 528.6,116.0 530.6,113.0 532.0,112.4 533.4,116.0 535.0,118.4 536.2,106.0 537.6,80.0 539.0,60.0 540.2,52.0 541.4,64.0 543.0,86.0 544.6,106.0 546.0,116.0 548.0,120.0 550.0,124.0 553.0,127.0 557.0,129.0" fill="#000" stroke="#000" stroke-width="0.6" stroke-linejoin="round"/>
<path d="M461.6 53.6H540.0M461.6 52.1v3M540.0 52.1v3" stroke="#555" stroke-width="0.9" fill="none"/>
<text transform="translate(465.7,70.6) scale(1,1.06)" font-size="15.3" font-weight="bold" fill="#000">74.2%</text>
<rect x="46.4" y="237.9" width="114.8" height="83.3" fill="#fff" stroke="#3a3a3a" stroke-width="1"/>
<line x1="43.6" y1="321.2" x2="46.4" y2="321.2" stroke="#222" stroke-width="0.9"/>
<line x1="45.2" y1="317.2" x2="46.4" y2="317.2" stroke="#222" stroke-width="0.7"/>
<line x1="45.2" y1="313.3" x2="46.4" y2="313.3" stroke="#222" stroke-width="0.7"/>
<line x1="45.2" y1="309.3" x2="46.4" y2="309.3" stroke="#222" stroke-width="0.7"/>
<line x1="43.6" y1="305.4" x2="46.4" y2="305.4" stroke="#222" stroke-width="0.9"/>
<line x1="45.2" y1="301.4" x2="46.4" y2="301.4" stroke="#222" stroke-width="0.7"/>
<line x1="45.2" y1="297.5" x2="46.4" y2="297.5" stroke="#222" stroke-width="0.7"/>
<line x1="45.2" y1="293.6" x2="46.4" y2="293.6" stroke="#222" stroke-width="0.7"/>
<line x1="43.6" y1="289.6" x2="46.4" y2="289.6" stroke="#222" stroke-width="0.9"/>
<line x1="45.2" y1="285.6" x2="46.4" y2="285.6" stroke="#222" stroke-width="0.7"/>
<line x1="45.2" y1="281.7" x2="46.4" y2="281.7" stroke="#222" stroke-width="0.7"/>
<line x1="45.2" y1="277.8" x2="46.4" y2="277.8" stroke="#222" stroke-width="0.7"/>
<line x1="43.6" y1="273.8" x2="46.4" y2="273.8" stroke="#222" stroke-width="0.9"/>
<line x1="45.2" y1="269.8" x2="46.4" y2="269.8" stroke="#222" stroke-width="0.7"/>
<line x1="45.2" y1="265.9" x2="46.4" y2="265.9" stroke="#222" stroke-width="0.7"/>
<line x1="45.2" y1="261.9" x2="46.4" y2="261.9" stroke="#222" stroke-width="0.7"/>
<line x1="43.6" y1="258.0" x2="46.4" y2="258.0" stroke="#222" stroke-width="0.9"/>
<line x1="45.2" y1="254.0" x2="46.4" y2="254.0" stroke="#222" stroke-width="0.7"/>
<line x1="45.2" y1="250.1" x2="46.4" y2="250.1" stroke="#222" stroke-width="0.7"/>
<line x1="45.2" y1="246.1" x2="46.4" y2="246.1" stroke="#222" stroke-width="0.7"/>
<line x1="43.6" y1="242.2" x2="46.4" y2="242.2" stroke="#222" stroke-width="0.9"/>
<text x="41.5" y="320.5" font-size="8" font-weight="bold" text-anchor="end" fill="#111">0</text>
<text x="41.5" y="307.6" font-size="8" font-weight="bold" text-anchor="end" fill="#111">20</text>
<text x="41.5" y="291.8" font-size="8" font-weight="bold" text-anchor="end" fill="#111">40</text>
<text x="41.5" y="276.0" font-size="8" font-weight="bold" text-anchor="end" fill="#111">60</text>
<text x="41.5" y="260.2" font-size="8" font-weight="bold" text-anchor="end" fill="#111">80</text>
<text x="41.5" y="246.4" font-size="8" font-weight="bold" text-anchor="end" fill="#111">100</text>
<line x1="56.9" y1="321.2" x2="56.9" y2="324.2" stroke="#222" stroke-width="0.9"/>
<line x1="69.9" y1="321.2" x2="69.9" y2="324.2" stroke="#222" stroke-width="0.9"/>
<line x1="96.4" y1="321.2" x2="96.4" y2="324.2" stroke="#222" stroke-width="0.9"/>
<line x1="122.4" y1="321.2" x2="122.4" y2="324.2" stroke="#222" stroke-width="0.9"/>
<line x1="147.4" y1="321.2" x2="147.4" y2="324.2" stroke="#222" stroke-width="0.9"/>
<line x1="77.9" y1="321.2" x2="77.9" y2="322.9" stroke="#444" stroke-width="0.6"/>
<line x1="82.5" y1="321.2" x2="82.5" y2="322.9" stroke="#444" stroke-width="0.6"/>
<line x1="85.9" y1="321.2" x2="85.9" y2="322.9" stroke="#444" stroke-width="0.6"/>
<line x1="88.4" y1="321.2" x2="88.4" y2="322.9" stroke="#444" stroke-width="0.6"/>
<line x1="90.5" y1="321.2" x2="90.5" y2="322.9" stroke="#444" stroke-width="0.6"/>
<line x1="92.3" y1="321.2" x2="92.3" y2="322.9" stroke="#444" stroke-width="0.6"/>
<line x1="93.8" y1="321.2" x2="93.8" y2="322.9" stroke="#444" stroke-width="0.6"/>
<line x1="95.2" y1="321.2" x2="95.2" y2="322.9" stroke="#444" stroke-width="0.6"/>
<line x1="104.2" y1="321.2" x2="104.2" y2="322.9" stroke="#444" stroke-width="0.6"/>
<line x1="108.8" y1="321.2" x2="108.8" y2="322.9" stroke="#444" stroke-width="0.6"/>
<line x1="112.1" y1="321.2" x2="112.1" y2="322.9" stroke="#444" stroke-width="0.6"/>
<line x1="114.6" y1="321.2" x2="114.6" y2="322.9" stroke="#444" stroke-width="0.6"/>
<line x1="116.6" y1="321.2" x2="116.6" y2="322.9" stroke="#444" stroke-width="0.6"/>
<line x1="118.4" y1="321.2" x2="118.4" y2="322.9" stroke="#444" stroke-width="0.6"/>
<line x1="119.9" y1="321.2" x2="119.9" y2="322.9" stroke="#444" stroke-width="0.6"/>
<line x1="121.2" y1="321.2" x2="121.2" y2="322.9" stroke="#444" stroke-width="0.6"/>
<line x1="129.9" y1="321.2" x2="129.9" y2="322.9" stroke="#444" stroke-width="0.6"/>
<line x1="134.3" y1="321.2" x2="134.3" y2="322.9" stroke="#444" stroke-width="0.6"/>
<line x1="137.5" y1="321.2" x2="137.5" y2="322.9" stroke="#444" stroke-width="0.6"/>
<line x1="139.9" y1="321.2" x2="139.9" y2="322.9" stroke="#444" stroke-width="0.6"/>
<line x1="141.9" y1="321.2" x2="141.9" y2="322.9" stroke="#444" stroke-width="0.6"/>
<line x1="143.5" y1="321.2" x2="143.5" y2="322.9" stroke="#444" stroke-width="0.6"/>
<line x1="145.0" y1="321.2" x2="145.0" y2="322.9" stroke="#444" stroke-width="0.6"/>
<line x1="146.3" y1="321.2" x2="146.3" y2="322.9" stroke="#444" stroke-width="0.6"/>
<line x1="154.9" y1="321.2" x2="154.9" y2="322.9" stroke="#444" stroke-width="0.6"/>
<line x1="159.3" y1="321.2" x2="159.3" y2="322.9" stroke="#444" stroke-width="0.6"/>
<line x1="60.8" y1="321.2" x2="60.8" y2="322.9" stroke="#444" stroke-width="0.6"/>
<line x1="63.4" y1="321.2" x2="63.4" y2="322.9" stroke="#444" stroke-width="0.6"/>
<line x1="66.0" y1="321.2" x2="66.0" y2="322.9" stroke="#444" stroke-width="0.6"/>
<line x1="68.6" y1="321.2" x2="68.6" y2="322.9" stroke="#444" stroke-width="0.6"/>
<line x1="54.9" y1="321.2" x2="54.9" y2="322.9" stroke="#444" stroke-width="0.6"/>
<line x1="52.9" y1="321.2" x2="52.9" y2="322.9" stroke="#444" stroke-width="0.6"/>
<line x1="50.9" y1="321.2" x2="50.9" y2="322.9" stroke="#444" stroke-width="0.6"/>
<line x1="48.9" y1="321.2" x2="48.9" y2="322.9" stroke="#444" stroke-width="0.6"/>
<text x="56.9" y="343.2" font-size="8.2" font-weight="bold" text-anchor="middle" fill="#111">0</text>
<text x="64.2" y="343.2" font-size="8.2" font-weight="bold" fill="#111">10<tspan dy="-6.6" dx="0" font-size="8">2</tspan></text>
<text x="89.9" y="343.2" font-size="8.2" font-weight="bold" fill="#111">10<tspan dy="-6.6" dx="0" font-size="8">3</tspan></text>
<text x="114.4" y="343.2" font-size="8.2" font-weight="bold" fill="#111">10<tspan dy="-6.6" dx="0" font-size="8">4</tspan></text>
<text x="137.5" y="343.2" font-size="8.2" font-weight="bold" fill="#111">10<tspan dy="-6.6" dx="0" font-size="8">5</tspan></text>
<polygon points="126.0,321.2 131.0,318.0 134.0,310.0 136.0,290.0 137.6,266.0 139.0,248.0 140.0,243.0 141.2,250.0 142.4,270.0 144.4,288.0 147.0,302.0 150.0,311.0 154.0,316.0 158.0,319.0 161.0,321.2 161.0,321.2" fill="#000" stroke="#000" stroke-width="0.6" stroke-linejoin="round"/>
<polygon points="85.0,321.2 90.0,319.0 94.0,317.4 97.0,316.6 100.0,317.4 104.0,319.0 109.0,321.2" fill="#000" stroke="#000" stroke-width="0.6" stroke-linejoin="round"/>
<path d="M58.6 244.6H139.6M58.6 243.1v3M139.6 243.1v3" stroke="#555" stroke-width="0.9" fill="none"/>
<text transform="translate(58.3,261.6) scale(1,1.06)" font-size="15.3" font-weight="bold" fill="#000">38.8%</text>
<rect x="182.4" y="239.3" width="114.6" height="83.2" fill="#fff" stroke="#3a3a3a" stroke-width="1"/>
<line x1="179.6" y1="322.5" x2="182.4" y2="322.5" stroke="#222" stroke-width="0.9"/>
<line x1="181.2" y1="318.6" x2="182.4" y2="318.6" stroke="#222" stroke-width="0.7"/>
<line x1="181.2" y1="314.6" x2="182.4" y2="314.6" stroke="#222" stroke-width="0.7"/>
<line x1="181.2" y1="310.6" x2="182.4" y2="310.6" stroke="#222" stroke-width="0.7"/>
<line x1="179.6" y1="306.7" x2="182.4" y2="306.7" stroke="#222" stroke-width="0.9"/>
<line x1="181.2" y1="302.8" x2="182.4" y2="302.8" stroke="#222" stroke-width="0.7"/>
<line x1="181.2" y1="298.8" x2="182.4" y2="298.8" stroke="#222" stroke-width="0.7"/>
<line x1="181.2" y1="294.9" x2="182.4" y2="294.9" stroke="#222" stroke-width="0.7"/>
<line x1="179.6" y1="290.9" x2="182.4" y2="290.9" stroke="#222" stroke-width="0.9"/>
<line x1="181.2" y1="286.9" x2="182.4" y2="286.9" stroke="#222" stroke-width="0.7"/>
<line x1="181.2" y1="283.0" x2="182.4" y2="283.0" stroke="#222" stroke-width="0.7"/>
<line x1="181.2" y1="279.1" x2="182.4" y2="279.1" stroke="#222" stroke-width="0.7"/>
<line x1="179.6" y1="275.1" x2="182.4" y2="275.1" stroke="#222" stroke-width="0.9"/>
<line x1="181.2" y1="271.1" x2="182.4" y2="271.1" stroke="#222" stroke-width="0.7"/>
<line x1="181.2" y1="267.2" x2="182.4" y2="267.2" stroke="#222" stroke-width="0.7"/>
<line x1="181.2" y1="263.2" x2="182.4" y2="263.2" stroke="#222" stroke-width="0.7"/>
<line x1="179.6" y1="259.3" x2="182.4" y2="259.3" stroke="#222" stroke-width="0.9"/>
<line x1="181.2" y1="255.3" x2="182.4" y2="255.3" stroke="#222" stroke-width="0.7"/>
<line x1="181.2" y1="251.4" x2="182.4" y2="251.4" stroke="#222" stroke-width="0.7"/>
<line x1="181.2" y1="247.4" x2="182.4" y2="247.4" stroke="#222" stroke-width="0.7"/>
<line x1="179.6" y1="243.5" x2="182.4" y2="243.5" stroke="#222" stroke-width="0.9"/>
<text x="177.5" y="321.8" font-size="8" font-weight="bold" text-anchor="end" fill="#111">0</text>
<text x="177.5" y="308.9" font-size="8" font-weight="bold" text-anchor="end" fill="#111">20</text>
<text x="177.5" y="293.1" font-size="8" font-weight="bold" text-anchor="end" fill="#111">40</text>
<text x="177.5" y="277.3" font-size="8" font-weight="bold" text-anchor="end" fill="#111">60</text>
<text x="177.5" y="261.5" font-size="8" font-weight="bold" text-anchor="end" fill="#111">80</text>
<text x="177.5" y="247.7" font-size="8" font-weight="bold" text-anchor="end" fill="#111">100</text>
<line x1="192.9" y1="322.5" x2="192.9" y2="325.5" stroke="#222" stroke-width="0.9"/>
<line x1="205.9" y1="322.5" x2="205.9" y2="325.5" stroke="#222" stroke-width="0.9"/>
<line x1="232.4" y1="322.5" x2="232.4" y2="325.5" stroke="#222" stroke-width="0.9"/>
<line x1="258.4" y1="322.5" x2="258.4" y2="325.5" stroke="#222" stroke-width="0.9"/>
<line x1="283.4" y1="322.5" x2="283.4" y2="325.5" stroke="#222" stroke-width="0.9"/>
<line x1="213.9" y1="322.5" x2="213.9" y2="324.2" stroke="#444" stroke-width="0.6"/>
<line x1="218.5" y1="322.5" x2="218.5" y2="324.2" stroke="#444" stroke-width="0.6"/>
<line x1="221.9" y1="322.5" x2="221.9" y2="324.2" stroke="#444" stroke-width="0.6"/>
<line x1="224.4" y1="322.5" x2="224.4" y2="324.2" stroke="#444" stroke-width="0.6"/>
<line x1="226.5" y1="322.5" x2="226.5" y2="324.2" stroke="#444" stroke-width="0.6"/>
<line x1="228.3" y1="322.5" x2="228.3" y2="324.2" stroke="#444" stroke-width="0.6"/>
<line x1="229.8" y1="322.5" x2="229.8" y2="324.2" stroke="#444" stroke-width="0.6"/>
<line x1="231.2" y1="322.5" x2="231.2" y2="324.2" stroke="#444" stroke-width="0.6"/>
<line x1="240.2" y1="322.5" x2="240.2" y2="324.2" stroke="#444" stroke-width="0.6"/>
<line x1="244.8" y1="322.5" x2="244.8" y2="324.2" stroke="#444" stroke-width="0.6"/>
<line x1="248.1" y1="322.5" x2="248.1" y2="324.2" stroke="#444" stroke-width="0.6"/>
<line x1="250.6" y1="322.5" x2="250.6" y2="324.2" stroke="#444" stroke-width="0.6"/>
<line x1="252.6" y1="322.5" x2="252.6" y2="324.2" stroke="#444" stroke-width="0.6"/>
<line x1="254.4" y1="322.5" x2="254.4" y2="324.2" stroke="#444" stroke-width="0.6"/>
<line x1="255.9" y1="322.5" x2="255.9" y2="324.2" stroke="#444" stroke-width="0.6"/>
<line x1="257.2" y1="322.5" x2="257.2" y2="324.2" stroke="#444" stroke-width="0.6"/>
<line x1="265.9" y1="322.5" x2="265.9" y2="324.2" stroke="#444" stroke-width="0.6"/>
<line x1="270.3" y1="322.5" x2="270.3" y2="324.2" stroke="#444" stroke-width="0.6"/>
<line x1="273.5" y1="322.5" x2="273.5" y2="324.2" stroke="#444" stroke-width="0.6"/>
<line x1="275.9" y1="322.5" x2="275.9" y2="324.2" stroke="#444" stroke-width="0.6"/>
<line x1="277.9" y1="322.5" x2="277.9" y2="324.2" stroke="#444" stroke-width="0.6"/>
<line x1="279.5" y1="322.5" x2="279.5" y2="324.2" stroke="#444" stroke-width="0.6"/>
<line x1="281.0" y1="322.5" x2="281.0" y2="324.2" stroke="#444" stroke-width="0.6"/>
<line x1="282.3" y1="322.5" x2="282.3" y2="324.2" stroke="#444" stroke-width="0.6"/>
<line x1="290.9" y1="322.5" x2="290.9" y2="324.2" stroke="#444" stroke-width="0.6"/>
<line x1="295.3" y1="322.5" x2="295.3" y2="324.2" stroke="#444" stroke-width="0.6"/>
<line x1="196.8" y1="322.5" x2="196.8" y2="324.2" stroke="#444" stroke-width="0.6"/>
<line x1="199.4" y1="322.5" x2="199.4" y2="324.2" stroke="#444" stroke-width="0.6"/>
<line x1="202.0" y1="322.5" x2="202.0" y2="324.2" stroke="#444" stroke-width="0.6"/>
<line x1="204.6" y1="322.5" x2="204.6" y2="324.2" stroke="#444" stroke-width="0.6"/>
<line x1="190.9" y1="322.5" x2="190.9" y2="324.2" stroke="#444" stroke-width="0.6"/>
<line x1="188.9" y1="322.5" x2="188.9" y2="324.2" stroke="#444" stroke-width="0.6"/>
<line x1="186.9" y1="322.5" x2="186.9" y2="324.2" stroke="#444" stroke-width="0.6"/>
<line x1="184.9" y1="322.5" x2="184.9" y2="324.2" stroke="#444" stroke-width="0.6"/>
<text x="192.9" y="344.5" font-size="8.2" font-weight="bold" text-anchor="middle" fill="#111">0</text>
<text x="200.2" y="344.5" font-size="8.2" font-weight="bold" fill="#111">10<tspan dy="-6.6" dx="0" font-size="8">2</tspan></text>
<text x="225.9" y="344.5" font-size="8.2" font-weight="bold" fill="#111">10<tspan dy="-6.6" dx="0" font-size="8">3</tspan></text>
<text x="250.4" y="344.5" font-size="8.2" font-weight="bold" fill="#111">10<tspan dy="-6.6" dx="0" font-size="8">4</tspan></text>
<text x="273.5" y="344.5" font-size="8.2" font-weight="bold" fill="#111">10<tspan dy="-6.6" dx="0" font-size="8">5</tspan></text>
<polygon points="205.0,322.5 213.0,319.6 218.0,318.0 222.0,317.4 225.0,315.0 228.0,312.4 231.0,310.0 233.4,307.0 235.0,305.6 237.0,308.0 239.0,310.0 240.6,307.0 242.0,305.6 243.6,309.0 245.0,311.6 247.0,311.0 249.0,313.0 252.0,315.6 255.0,317.0 258.0,317.4 260.0,319.0 263.0,317.4 266.0,317.0 268.0,318.0 270.0,317.4 271.4,310.0 273.0,290.0 274.6,270.0 276.0,264.6 277.4,276.0 278.6,296.0 280.0,310.0 282.0,317.0 285.0,320.0 290.0,322.5 290.0,322.5" fill="#000" stroke="#000" stroke-width="0.6" stroke-linejoin="round"/>
<path d="M194.8 246.4H275.4M194.8 244.9v3M275.4 244.9v3" stroke="#555" stroke-width="0.9" fill="none"/>
<text transform="translate(196.3,261.6) scale(1,1.06)" font-size="15.3" font-weight="bold" fill="#000">76.8%</text>
<rect x="317.0" y="240.1" width="114.6" height="83.4" fill="#fff" stroke="#3a3a3a" stroke-width="1"/>
<line x1="314.2" y1="323.5" x2="317.0" y2="323.5" stroke="#222" stroke-width="0.9"/>
<line x1="315.8" y1="319.6" x2="317.0" y2="319.6" stroke="#222" stroke-width="0.7"/>
<line x1="315.8" y1="315.6" x2="317.0" y2="315.6" stroke="#222" stroke-width="0.7"/>
<line x1="315.8" y1="311.6" x2="317.0" y2="311.6" stroke="#222" stroke-width="0.7"/>
<line x1="314.2" y1="307.7" x2="317.0" y2="307.7" stroke="#222" stroke-width="0.9"/>
<line x1="315.8" y1="303.8" x2="317.0" y2="303.8" stroke="#222" stroke-width="0.7"/>
<line x1="315.8" y1="299.8" x2="317.0" y2="299.8" stroke="#222" stroke-width="0.7"/>
<line x1="315.8" y1="295.9" x2="317.0" y2="295.9" stroke="#222" stroke-width="0.7"/>
<line x1="314.2" y1="291.9" x2="317.0" y2="291.9" stroke="#222" stroke-width="0.9"/>
<line x1="315.8" y1="287.9" x2="317.0" y2="287.9" stroke="#222" stroke-width="0.7"/>
<line x1="315.8" y1="284.0" x2="317.0" y2="284.0" stroke="#222" stroke-width="0.7"/>
<line x1="315.8" y1="280.1" x2="317.0" y2="280.1" stroke="#222" stroke-width="0.7"/>
<line x1="314.2" y1="276.1" x2="317.0" y2="276.1" stroke="#222" stroke-width="0.9"/>
<line x1="315.8" y1="272.1" x2="317.0" y2="272.1" stroke="#222" stroke-width="0.7"/>
<line x1="315.8" y1="268.2" x2="317.0" y2="268.2" stroke="#222" stroke-width="0.7"/>
<line x1="315.8" y1="264.2" x2="317.0" y2="264.2" stroke="#222" stroke-width="0.7"/>
<line x1="314.2" y1="260.3" x2="317.0" y2="260.3" stroke="#222" stroke-width="0.9"/>
<line x1="315.8" y1="256.4" x2="317.0" y2="256.4" stroke="#222" stroke-width="0.7"/>
<line x1="315.8" y1="252.4" x2="317.0" y2="252.4" stroke="#222" stroke-width="0.7"/>
<line x1="315.8" y1="248.4" x2="317.0" y2="248.4" stroke="#222" stroke-width="0.7"/>
<line x1="314.2" y1="244.5" x2="317.0" y2="244.5" stroke="#222" stroke-width="0.9"/>
<text x="312.1" y="322.8" font-size="8" font-weight="bold" text-anchor="end" fill="#111">0</text>
<text x="312.1" y="309.9" font-size="8" font-weight="bold" text-anchor="end" fill="#111">20</text>
<text x="312.1" y="294.1" font-size="8" font-weight="bold" text-anchor="end" fill="#111">40</text>
<text x="312.1" y="278.3" font-size="8" font-weight="bold" text-anchor="end" fill="#111">60</text>
<text x="312.1" y="262.5" font-size="8" font-weight="bold" text-anchor="end" fill="#111">80</text>
<text x="312.1" y="248.7" font-size="8" font-weight="bold" text-anchor="end" fill="#111">100</text>
<line x1="327.5" y1="323.5" x2="327.5" y2="326.5" stroke="#222" stroke-width="0.9"/>
<line x1="340.5" y1="323.5" x2="340.5" y2="326.5" stroke="#222" stroke-width="0.9"/>
<line x1="367.0" y1="323.5" x2="367.0" y2="326.5" stroke="#222" stroke-width="0.9"/>
<line x1="393.0" y1="323.5" x2="393.0" y2="326.5" stroke="#222" stroke-width="0.9"/>
<line x1="418.0" y1="323.5" x2="418.0" y2="326.5" stroke="#222" stroke-width="0.9"/>
<line x1="348.5" y1="323.5" x2="348.5" y2="325.2" stroke="#444" stroke-width="0.6"/>
<line x1="353.1" y1="323.5" x2="353.1" y2="325.2" stroke="#444" stroke-width="0.6"/>
<line x1="356.5" y1="323.5" x2="356.5" y2="325.2" stroke="#444" stroke-width="0.6"/>
<line x1="359.0" y1="323.5" x2="359.0" y2="325.2" stroke="#444" stroke-width="0.6"/>
<line x1="361.1" y1="323.5" x2="361.1" y2="325.2" stroke="#444" stroke-width="0.6"/>
<line x1="362.9" y1="323.5" x2="362.9" y2="325.2" stroke="#444" stroke-width="0.6"/>
<line x1="364.4" y1="323.5" x2="364.4" y2="325.2" stroke="#444" stroke-width="0.6"/>
<line x1="365.8" y1="323.5" x2="365.8" y2="325.2" stroke="#444" stroke-width="0.6"/>
<line x1="374.8" y1="323.5" x2="374.8" y2="325.2" stroke="#444" stroke-width="0.6"/>
<line x1="379.4" y1="323.5" x2="379.4" y2="325.2" stroke="#444" stroke-width="0.6"/>
<line x1="382.7" y1="323.5" x2="382.7" y2="325.2" stroke="#444" stroke-width="0.6"/>
<line x1="385.2" y1="323.5" x2="385.2" y2="325.2" stroke="#444" stroke-width="0.6"/>
<line x1="387.2" y1="323.5" x2="387.2" y2="325.2" stroke="#444" stroke-width="0.6"/>
<line x1="389.0" y1="323.5" x2="389.0" y2="325.2" stroke="#444" stroke-width="0.6"/>
<line x1="390.5" y1="323.5" x2="390.5" y2="325.2" stroke="#444" stroke-width="0.6"/>
<line x1="391.8" y1="323.5" x2="391.8" y2="325.2" stroke="#444" stroke-width="0.6"/>
<line x1="400.5" y1="323.5" x2="400.5" y2="325.2" stroke="#444" stroke-width="0.6"/>
<line x1="404.9" y1="323.5" x2="404.9" y2="325.2" stroke="#444" stroke-width="0.6"/>
<line x1="408.1" y1="323.5" x2="408.1" y2="325.2" stroke="#444" stroke-width="0.6"/>
<line x1="410.5" y1="323.5" x2="410.5" y2="325.2" stroke="#444" stroke-width="0.6"/>
<line x1="412.5" y1="323.5" x2="412.5" y2="325.2" stroke="#444" stroke-width="0.6"/>
<line x1="414.1" y1="323.5" x2="414.1" y2="325.2" stroke="#444" stroke-width="0.6"/>
<line x1="415.6" y1="323.5" x2="415.6" y2="325.2" stroke="#444" stroke-width="0.6"/>
<line x1="416.9" y1="323.5" x2="416.9" y2="325.2" stroke="#444" stroke-width="0.6"/>
<line x1="425.5" y1="323.5" x2="425.5" y2="325.2" stroke="#444" stroke-width="0.6"/>
<line x1="429.9" y1="323.5" x2="429.9" y2="325.2" stroke="#444" stroke-width="0.6"/>
<line x1="331.4" y1="323.5" x2="331.4" y2="325.2" stroke="#444" stroke-width="0.6"/>
<line x1="334.0" y1="323.5" x2="334.0" y2="325.2" stroke="#444" stroke-width="0.6"/>
<line x1="336.6" y1="323.5" x2="336.6" y2="325.2" stroke="#444" stroke-width="0.6"/>
<line x1="339.2" y1="323.5" x2="339.2" y2="325.2" stroke="#444" stroke-width="0.6"/>
<line x1="325.5" y1="323.5" x2="325.5" y2="325.2" stroke="#444" stroke-width="0.6"/>
<line x1="323.5" y1="323.5" x2="323.5" y2="325.2" stroke="#444" stroke-width="0.6"/>
<line x1="321.5" y1="323.5" x2="321.5" y2="325.2" stroke="#444" stroke-width="0.6"/>
<line x1="319.5" y1="323.5" x2="319.5" y2="325.2" stroke="#444" stroke-width="0.6"/>
<text x="327.5" y="344.5" font-size="8.2" font-weight="bold" text-anchor="middle" fill="#111">0</text>
<text x="334.8" y="344.5" font-size="8.2" font-weight="bold" fill="#111">10<tspan dy="-6.6" dx="0" font-size="8">2</tspan></text>
<text x="360.5" y="344.5" font-size="8.2" font-weight="bold" fill="#111">10<tspan dy="-6.6" dx="0" font-size="8">3</tspan></text>
<text x="385.0" y="344.5" font-size="8.2" font-weight="bold" fill="#111">10<tspan dy="-6.6" dx="0" font-size="8">4</tspan></text>
<text x="408.1" y="344.5" font-size="8.2" font-weight="bold" fill="#111">10<tspan dy="-6.6" dx="0" font-size="8">5</tspan></text>
<polygon points="317.0,323.5 317.2,312.0 318.4,318.0 321.0,321.0 328.0,320.0 334.0,319.0 340.0,317.0 344.0,314.0 347.0,311.0 350.0,304.0 353.0,299.0 356.0,292.0 358.0,284.0 361.0,277.0 364.0,269.0 366.0,262.0 367.6,256.0 369.0,260.0 370.4,270.0 372.0,280.0 373.6,277.0 375.0,273.0 376.4,271.6 377.6,280.0 379.0,290.0 380.4,299.0 382.0,297.6 383.6,295.6 385.0,300.0 386.4,307.0 388.0,312.0 390.0,310.0 391.6,308.0 393.0,311.0 395.0,317.0 398.0,316.0 401.0,316.4 404.0,317.4 405.6,310.0 407.0,290.0 408.4,274.0 410.0,266.4 411.4,276.0 413.0,290.0 415.0,302.0 417.0,310.0 419.0,316.0 422.0,319.0 426.0,320.0 430.0,321.6 431.6,323.5" fill="#000" stroke="#000" stroke-width="0.6" stroke-linejoin="round"/>
<path d="M329.4 247.2H410.4M329.4 245.7v3M410.4 245.7v3" stroke="#555" stroke-width="0.9" fill="none"/>
<text transform="translate(332.3,261.6) scale(1,1.06)" font-size="15.3" font-weight="bold" fill="#000">86.0%</text>
<rect x="451.6" y="240.1" width="115.0" height="83.4" fill="#fff" stroke="#3a3a3a" stroke-width="1"/>
<line x1="448.8" y1="323.5" x2="451.6" y2="323.5" stroke="#222" stroke-width="0.9"/>
<line x1="450.4" y1="319.6" x2="451.6" y2="319.6" stroke="#222" stroke-width="0.7"/>
<line x1="450.4" y1="315.6" x2="451.6" y2="315.6" stroke="#222" stroke-width="0.7"/>
<line x1="450.4" y1="311.6" x2="451.6" y2="311.6" stroke="#222" stroke-width="0.7"/>
<line x1="448.8" y1="307.7" x2="451.6" y2="307.7" stroke="#222" stroke-width="0.9"/>
<line x1="450.4" y1="303.8" x2="451.6" y2="303.8" stroke="#222" stroke-width="0.7"/>
<line x1="450.4" y1="299.8" x2="451.6" y2="299.8" stroke="#222" stroke-width="0.7"/>
<line x1="450.4" y1="295.9" x2="451.6" y2="295.9" stroke="#222" stroke-width="0.7"/>
<line x1="448.8" y1="291.9" x2="451.6" y2="291.9" stroke="#222" stroke-width="0.9"/>
<line x1="450.4" y1="287.9" x2="451.6" y2="287.9" stroke="#222" stroke-width="0.7"/>
<line x1="450.4" y1="284.0" x2="451.6" y2="284.0" stroke="#222" stroke-width="0.7"/>
<line x1="450.4" y1="280.1" x2="451.6" y2="280.1" stroke="#222" stroke-width="0.7"/>
<line x1="448.8" y1="276.1" x2="451.6" y2="276.1" stroke="#222" stroke-width="0.9"/>
<line x1="450.4" y1="272.1" x2="451.6" y2="272.1" stroke="#222" stroke-width="0.7"/>
<line x1="450.4" y1="268.2" x2="451.6" y2="268.2" stroke="#222" stroke-width="0.7"/>
<line x1="450.4" y1="264.2" x2="451.6" y2="264.2" stroke="#222" stroke-width="0.7"/>
<line x1="448.8" y1="260.3" x2="451.6" y2="260.3" stroke="#222" stroke-width="0.9"/>
<line x1="450.4" y1="256.4" x2="451.6" y2="256.4" stroke="#222" stroke-width="0.7"/>
<line x1="450.4" y1="252.4" x2="451.6" y2="252.4" stroke="#222" stroke-width="0.7"/>
<line x1="450.4" y1="248.4" x2="451.6" y2="248.4" stroke="#222" stroke-width="0.7"/>
<line x1="448.8" y1="244.5" x2="451.6" y2="244.5" stroke="#222" stroke-width="0.9"/>
<text x="446.7" y="322.8" font-size="8" font-weight="bold" text-anchor="end" fill="#111">0</text>
<text x="446.7" y="309.9" font-size="8" font-weight="bold" text-anchor="end" fill="#111">20</text>
<text x="446.7" y="294.1" font-size="8" font-weight="bold" text-anchor="end" fill="#111">40</text>
<text x="446.7" y="278.3" font-size="8" font-weight="bold" text-anchor="end" fill="#111">60</text>
<text x="446.7" y="262.5" font-size="8" font-weight="bold" text-anchor="end" fill="#111">80</text>
<text x="446.7" y="248.7" font-size="8" font-weight="bold" text-anchor="end" fill="#111">100</text>
<line x1="462.1" y1="323.5" x2="462.1" y2="326.5" stroke="#222" stroke-width="0.9"/>
<line x1="475.1" y1="323.5" x2="475.1" y2="326.5" stroke="#222" stroke-width="0.9"/>
<line x1="501.6" y1="323.5" x2="501.6" y2="326.5" stroke="#222" stroke-width="0.9"/>
<line x1="527.6" y1="323.5" x2="527.6" y2="326.5" stroke="#222" stroke-width="0.9"/>
<line x1="552.6" y1="323.5" x2="552.6" y2="326.5" stroke="#222" stroke-width="0.9"/>
<line x1="483.1" y1="323.5" x2="483.1" y2="325.2" stroke="#444" stroke-width="0.6"/>
<line x1="487.7" y1="323.5" x2="487.7" y2="325.2" stroke="#444" stroke-width="0.6"/>
<line x1="491.1" y1="323.5" x2="491.1" y2="325.2" stroke="#444" stroke-width="0.6"/>
<line x1="493.6" y1="323.5" x2="493.6" y2="325.2" stroke="#444" stroke-width="0.6"/>
<line x1="495.7" y1="323.5" x2="495.7" y2="325.2" stroke="#444" stroke-width="0.6"/>
<line x1="497.5" y1="323.5" x2="497.5" y2="325.2" stroke="#444" stroke-width="0.6"/>
<line x1="499.0" y1="323.5" x2="499.0" y2="325.2" stroke="#444" stroke-width="0.6"/>
<line x1="500.4" y1="323.5" x2="500.4" y2="325.2" stroke="#444" stroke-width="0.6"/>
<line x1="509.4" y1="323.5" x2="509.4" y2="325.2" stroke="#444" stroke-width="0.6"/>
<line x1="514.0" y1="323.5" x2="514.0" y2="325.2" stroke="#444" stroke-width="0.6"/>
<line x1="517.3" y1="323.5" x2="517.3" y2="325.2" stroke="#444" stroke-width="0.6"/>
<line x1="519.8" y1="323.5" x2="519.8" y2="325.2" stroke="#444" stroke-width="0.6"/>
<line x1="521.8" y1="323.5" x2="521.8" y2="325.2" stroke="#444" stroke-width="0.6"/>
<line x1="523.6" y1="323.5" x2="523.6" y2="325.2" stroke="#444" stroke-width="0.6"/>
<line x1="525.1" y1="323.5" x2="525.1" y2="325.2" stroke="#444" stroke-width="0.6"/>
<line x1="526.4" y1="323.5" x2="526.4" y2="325.2" stroke="#444" stroke-width="0.6"/>
<line x1="535.1" y1="323.5" x2="535.1" y2="325.2" stroke="#444" stroke-width="0.6"/>
<line x1="539.5" y1="323.5" x2="539.5" y2="325.2" stroke="#444" stroke-width="0.6"/>
<line x1="542.7" y1="323.5" x2="542.7" y2="325.2" stroke="#444" stroke-width="0.6"/>
<line x1="545.1" y1="323.5" x2="545.1" y2="325.2" stroke="#444" stroke-width="0.6"/>
<line x1="547.1" y1="323.5" x2="547.1" y2="325.2" stroke="#444" stroke-width="0.6"/>
<line x1="548.7" y1="323.5" x2="548.7" y2="325.2" stroke="#444" stroke-width="0.6"/>
<line x1="550.2" y1="323.5" x2="550.2" y2="325.2" stroke="#444" stroke-width="0.6"/>
<line x1="551.5" y1="323.5" x2="551.5" y2="325.2" stroke="#444" stroke-width="0.6"/>
<line x1="560.1" y1="323.5" x2="560.1" y2="325.2" stroke="#444" stroke-width="0.6"/>
<line x1="564.5" y1="323.5" x2="564.5" y2="325.2" stroke="#444" stroke-width="0.6"/>
<line x1="466.0" y1="323.5" x2="466.0" y2="325.2" stroke="#444" stroke-width="0.6"/>
<line x1="468.6" y1="323.5" x2="468.6" y2="325.2" stroke="#444" stroke-width="0.6"/>
<line x1="471.2" y1="323.5" x2="471.2" y2="325.2" stroke="#444" stroke-width="0.6"/>
<line x1="473.8" y1="323.5" x2="473.8" y2="325.2" stroke="#444" stroke-width="0.6"/>
<line x1="460.1" y1="323.5" x2="460.1" y2="325.2" stroke="#444" stroke-width="0.6"/>
<line x1="458.1" y1="323.5" x2="458.1" y2="325.2" stroke="#444" stroke-width="0.6"/>
<line x1="456.1" y1="323.5" x2="456.1" y2="325.2" stroke="#444" stroke-width="0.6"/>
<line x1="454.1" y1="323.5" x2="454.1" y2="325.2" stroke="#444" stroke-width="0.6"/>
<text x="462.1" y="344.5" font-size="8.2" font-weight="bold" text-anchor="middle" fill="#111">0</text>
<text x="469.4" y="344.5" font-size="8.2" font-weight="bold" fill="#111">10<tspan dy="-6.6" dx="0" font-size="8">2</tspan></text>
<text x="495.1" y="344.5" font-size="8.2" font-weight="bold" fill="#111">10<tspan dy="-6.6" dx="0" font-size="8">3</tspan></text>
<text x="519.6" y="344.5" font-size="8.2" font-weight="bold" fill="#111">10<tspan dy="-6.6" dx="0" font-size="8">4</tspan></text>
<text x="542.7" y="344.5" font-size="8.2" font-weight="bold" fill="#111">10<tspan dy="-6.6" dx="0" font-size="8">5</tspan></text>
<polygon points="451.6,323.5 452.0,316.0 453.4,320.0 457.0,321.6 465.0,321.0 471.0,320.0 475.0,319.0 479.0,316.4 483.0,313.0 486.0,308.0 489.0,301.0 492.0,292.0 494.0,286.0 496.0,276.0 498.0,269.0 500.0,260.0 501.6,252.0 503.0,247.6 504.4,250.0 506.0,256.0 507.4,262.0 509.0,258.0 510.4,253.4 511.6,260.0 513.0,272.0 514.6,284.0 516.0,289.0 517.4,286.0 518.6,285.0 520.0,292.0 521.6,304.0 523.4,310.0 525.0,306.0 526.2,304.0 527.4,307.0 529.0,312.0 531.0,317.0 533.0,315.0 534.6,313.6 536.2,316.0 538.0,318.0 540.0,317.0 541.4,310.0 543.0,300.0 544.4,293.0 545.4,290.6 546.6,296.0 548.0,305.0 550.0,312.0 553.0,317.0 557.0,319.6 562.0,321.0 566.6,323.5 566.6,323.5" fill="#000" stroke="#000" stroke-width="0.6" stroke-linejoin="round"/>
<path d="M464.4 247.2H545.4M464.4 245.7v3M545.4 245.7v3" stroke="#555" stroke-width="0.9" fill="none"/>
<text transform="translate(465.8,261.1) scale(1,1.06)" font-size="15.3" font-weight="bold" fill="#000">91.6%</text>
<rect x="310" y="344" width="270" height="7" fill="#fff"/>
<text transform="translate(93.6,168.5) scale(1,1.05)" font-size="13.4" font-weight="bold" text-anchor="middle">T cell/</text>
<text transform="translate(93.6,185.1) scale(1,1.05)" font-size="13.4" font-weight="bold" text-anchor="middle">no OVA DCs</text>
<text transform="translate(229.0,168.5) scale(1,1.05)" font-size="13.4" font-weight="bold" text-anchor="middle">T cell/ OVA<tspan dy="3.4" font-size="9.2">257-264</tspan></text>
<text transform="translate(229.0,185.1) scale(1,1.05)" font-size="13.4" font-weight="bold" text-anchor="middle">pulsed DCs</text>
<text transform="translate(370.3,168.5) scale(1,1.05)" font-size="13.2" font-weight="bold" text-anchor="middle">T cell/OVA<tspan dy="3.4" font-size="9.2">257-264</tspan></text>
<text transform="translate(370.3,185.1) scale(1,1.05)" font-size="13.3" font-weight="bold" text-anchor="middle">pulsed LPS-DCs</text>
<text transform="translate(511.3,168.5) scale(1,1.05)" font-size="13.3" font-weight="bold" text-anchor="middle">T cell/OVA<tspan dy="3.4" font-size="9.2">257-264</tspan></text>
<text transform="translate(511.3,185.1) scale(1,1.05)" font-size="13.15" font-weight="bold" text-anchor="middle">pulsed Rv2299c-DCs</text>
<text transform="translate(93.6,363.4) scale(1,1.05)" font-size="13.4" font-weight="bold" text-anchor="middle">T cell/</text>
<text transform="translate(93.6,380.0) scale(1,1.05)" font-size="13.4" font-weight="bold" text-anchor="middle">no OVA DCs</text>
<text transform="translate(229.0,363.4) scale(1,1.05)" font-size="13.4" font-weight="bold" text-anchor="middle">T cell/ OVA<tspan dy="3.4" font-size="9.2">323-339</tspan></text>
<text transform="translate(229.0,380.0) scale(1,1.05)" font-size="13.4" font-weight="bold" text-anchor="middle">pulsed DCs</text>
<text transform="translate(370.3,363.4) scale(1,1.05)" font-size="13.2" font-weight="bold" text-anchor="middle">T cell/OVA<tspan dy="3.4" font-size="9.2">323-339</tspan></text>
<text transform="translate(370.3,380.0) scale(1,1.05)" font-size="13.3" font-weight="bold" text-anchor="middle">pulsed LPS-DCs</text>
<text transform="translate(511.3,363.4) scale(1,1.05)" font-size="13.3" font-weight="bold" text-anchor="middle">T cell/OVA<tspan dy="3.4" font-size="9.2">323-339</tspan></text>
<text transform="translate(511.3,380.0) scale(1,1.05)" font-size="13.15" font-weight="bold" text-anchor="middle">pulsed Rv2299c-DCs</text>
<path d="M46 199.5H567.5" stroke="#000" stroke-width="2" fill="none"/>
<path d="M555.8 192.5L568.4 199.5L555.8 206.5" stroke="#000" stroke-width="1.8" fill="none" stroke-linejoin="miter"/>
<path d="M46 391.8H567.5" stroke="#000" stroke-width="2" fill="none"/>
<path d="M555.8 384.8L568.4 391.8L555.8 398.8" stroke="#000" stroke-width="1.8" fill="none" stroke-linejoin="miter"/>
<text transform="translate(303.5,220.6) scale(1,1.04)" font-size="15.2" font-weight="bold" text-anchor="middle">CFSE-CD8<tspan dy="-4.6" font-size="9">+</tspan><tspan dy="4.6">-cy5.5</tspan></text>
<text transform="translate(314,413.2) scale(1,1.04)" font-size="15.3" font-weight="bold" text-anchor="middle">CFSE-CD4<tspan dy="-4.6" font-size="9">+</tspan><tspan dy="4.6">-cy5.5</tspan></text>
<path d="M122.40 523.30V594.20H229.80" stroke="#000" stroke-width="1.4" fill="none" stroke-linejoin="miter"/>
<line x1="114.40" y1="594.20" x2="122.40" y2="594.20" stroke="#000" stroke-width="1.4"/>
<text transform="translate(111.80,597.60) scale(0.957,1)" font-size="15.5" text-anchor="end">0</text>
<line x1="114.40" y1="576.65" x2="122.40" y2="576.65" stroke="#000" stroke-width="1.4"/>
<text transform="translate(111.80,580.05) scale(0.957,1)" font-size="15.5" text-anchor="end"><tspan letter-spacing="-1.2">1</tspan>000</text>
<line x1="114.40" y1="559.10" x2="122.40" y2="559.10" stroke="#000" stroke-width="1.4"/>
<text transform="translate(111.80,562.50) scale(0.957,1)" font-size="15.5" text-anchor="end">2000</text>
<line x1="114.40" y1="541.55" x2="122.40" y2="541.55" stroke="#000" stroke-width="1.4"/>
<text transform="translate(111.80,544.95) scale(0.957,1)" font-size="15.5" text-anchor="end">3000</text>
<line x1="114.40" y1="524.00" x2="122.40" y2="524.00" stroke="#000" stroke-width="1.4"/>
<text transform="translate(111.80,527.40) scale(0.957,1)" font-size="15.5" text-anchor="end">4000</text>
<rect x="126.50" y="593.71" width="18.60" height="0.99" fill="#000"/>
<text transform="translate(140.60,604.25) scale(1.07,1) rotate(-90)" font-size="14" text-anchor="end" style="font-kerning:none"><tspan letter-spacing="-0.5">no</tspan><tspan letter-spacing="1.3"> OV</tspan>A</text>
<rect x="153.30" y="583.67" width="18.60" height="11.03" fill="#000"/>
<text transform="translate(167.40,604.25) scale(1.07,1) rotate(-90)" font-size="14" text-anchor="end" style="font-kerning:none"><tspan letter-spacing="-0.2">CO</tspan>N</text>
<path d="M189.40 558.22V552.61M184.70 552.61H194.10" stroke="#000" stroke-width="1.3" fill="none"/>
<rect x="180.10" y="558.22" width="18.60" height="36.48" fill="#000"/>
<text transform="translate(193.50,604.25) scale(1.07,1) rotate(-90)" font-size="14" text-anchor="end" style="font-kerning:none"><tspan letter-spacing="-0.5">LP</tspan>S</text>
<path d="M216.20 547.34V546.81M211.50 546.81H220.90" stroke="#000" stroke-width="1.3" fill="none"/>
<rect x="206.90" y="547.34" width="18.60" height="47.36" fill="#000"/>
<text transform="translate(220.70,603.00) scale(1.07,1) rotate(-90)" font-size="14" text-anchor="end" style="font-kerning:none"><tspan letter-spacing="0.35">Rv2299</tspan>c</text>
<text transform="translate(67.60,613.70) rotate(-90) scale(1.08,1)" font-size="16" font-weight="bold"><tspan letter-spacing="0.2">IFN-</tspan><tspan font-family="Liberation Serif" font-style="italic" font-weight="bold" font-size="17" dx="-1.3">&#947;</tspan><tspan letter-spacing="0.45" dx="0.3"> (pg/ml)</tspan></text>
<text transform="translate(154.20,512.50) scale(1,1.04)" font-size="14.2" letter-spacing="1.0" style="font-kerning:none">OVA<tspan dy="3.2" font-size="10" letter-spacing="0.1">257-264</tspan></text>
<line x1="155.20" y1="519.90" x2="224.30" y2="519.90" stroke="#000" stroke-width="1.4"/>
<text x="190.30" y="555.10" font-size="15.8" letter-spacing="1.8" text-anchor="middle" fill="#444">**</text>
<text x="217.10" y="548.70" font-size="15.8" letter-spacing="1.8" text-anchor="middle" fill="#444">***</text>
<path d="M335.10 517.40V588.00H441.70" stroke="#000" stroke-width="1.4" fill="none" stroke-linejoin="miter"/>
<line x1="327.10" y1="588.00" x2="335.10" y2="588.00" stroke="#000" stroke-width="1.4"/>
<text transform="translate(323.80,591.40) scale(0.925,1)" font-size="15.5" text-anchor="end">0</text>
<line x1="327.10" y1="570.52" x2="335.10" y2="570.52" stroke="#000" stroke-width="1.4"/>
<text transform="translate(323.80,573.92) scale(0.925,1)" font-size="15.5" text-anchor="end">250</text>
<line x1="327.10" y1="553.05" x2="335.10" y2="553.05" stroke="#000" stroke-width="1.4"/>
<text transform="translate(323.80,556.45) scale(0.925,1)" font-size="15.5" text-anchor="end">500</text>
<line x1="327.10" y1="535.58" x2="335.10" y2="535.58" stroke="#000" stroke-width="1.4"/>
<text transform="translate(323.80,538.98) scale(0.925,1)" font-size="15.5" text-anchor="end">750</text>
<line x1="327.10" y1="518.10" x2="335.10" y2="518.10" stroke="#000" stroke-width="1.4"/>
<text transform="translate(323.80,521.50) scale(0.925,1)" font-size="15.5" text-anchor="end"><tspan letter-spacing="-1.2">1</tspan>000</text>
<path d="M348.45 582.20V580.94M343.75 580.94H353.15" stroke="#000" stroke-width="1.3" fill="none"/>
<rect x="339.20" y="582.20" width="18.50" height="6.30" fill="#000"/>
<text transform="translate(353.25,597.85) scale(1.07,1) rotate(-90)" font-size="14" text-anchor="end" style="font-kerning:none"><tspan letter-spacing="-0.5">no</tspan><tspan letter-spacing="1.3"> OV</tspan>A</text>
<path d="M375.20 573.81V572.41M370.50 572.41H379.90" stroke="#000" stroke-width="1.3" fill="none"/>
<rect x="365.95" y="573.81" width="18.50" height="14.69" fill="#000"/>
<text transform="translate(380.00,597.85) scale(1.07,1) rotate(-90)" font-size="14" text-anchor="end" style="font-kerning:none"><tspan letter-spacing="-0.2">CO</tspan>N</text>
<path d="M401.95 548.72V547.32M397.25 547.32H406.65" stroke="#000" stroke-width="1.3" fill="none"/>
<rect x="392.70" y="548.72" width="18.50" height="39.78" fill="#000"/>
<text transform="translate(406.05,597.85) scale(1.07,1) rotate(-90)" font-size="14" text-anchor="end" style="font-kerning:none"><tspan letter-spacing="-0.5">LP</tspan>S</text>
<path d="M428.70 534.74V531.94M424.00 531.94H433.40" stroke="#000" stroke-width="1.3" fill="none"/>
<rect x="419.45" y="534.74" width="18.50" height="53.76" fill="#000"/>
<text transform="translate(433.20,596.60) scale(1.07,1) rotate(-90)" font-size="14" text-anchor="end" style="font-kerning:none"><tspan letter-spacing="0.35">Rv2299</tspan>c</text>
<text transform="translate(280.10,602.90) rotate(-90) scale(1.08,1)" font-size="16" font-weight="bold">IL-2<tspan letter-spacing="0.45" dx="0 0 0 -1.0 -0.6 -0.6 2.0 0.2"> (pg/ml)</tspan></text>
<text transform="translate(366.40,506.60) scale(1,1.04)" font-size="14.2" letter-spacing="1.0" style="font-kerning:none">OVA<tspan dy="3.2" font-size="10" letter-spacing="0.1">257-264</tspan></text>
<line x1="367.80" y1="514.40" x2="436.10" y2="514.40" stroke="#000" stroke-width="1.4"/>
<text x="402.85" y="547.30" font-size="15.8" letter-spacing="1.8" text-anchor="middle" fill="#444">***</text>
<text x="429.60" y="532.60" font-size="15.8" letter-spacing="1.8" text-anchor="middle" fill="#444">***</text>
<path d="M128.80 727.90V798.80H235.80" stroke="#000" stroke-width="1.4" fill="none" stroke-linejoin="miter"/>
<line x1="120.80" y1="798.80" x2="128.80" y2="798.80" stroke="#000" stroke-width="1.4"/>
<text transform="translate(118.20,802.20) scale(0.957,1)" font-size="15.5" text-anchor="end">0</text>
<line x1="120.80" y1="784.76" x2="128.80" y2="784.76" stroke="#000" stroke-width="1.4"/>
<text transform="translate(118.20,788.16) scale(0.957,1)" font-size="15.5" text-anchor="end"><tspan letter-spacing="-1.2">1</tspan>000</text>
<line x1="120.80" y1="770.72" x2="128.80" y2="770.72" stroke="#000" stroke-width="1.4"/>
<text transform="translate(118.20,774.12) scale(0.957,1)" font-size="15.5" text-anchor="end">2000</text>
<line x1="120.80" y1="756.68" x2="128.80" y2="756.68" stroke="#000" stroke-width="1.4"/>
<text transform="translate(118.20,760.08) scale(0.957,1)" font-size="15.5" text-anchor="end">3000</text>
<line x1="120.80" y1="742.64" x2="128.80" y2="742.64" stroke="#000" stroke-width="1.4"/>
<text transform="translate(118.20,746.04) scale(0.957,1)" font-size="15.5" text-anchor="end">4000</text>
<line x1="120.80" y1="728.60" x2="128.80" y2="728.60" stroke="#000" stroke-width="1.4"/>
<text transform="translate(118.20,732.00) scale(0.957,1)" font-size="15.5" text-anchor="end">5000</text>
<path d="M141.60 795.99V794.59M136.90 794.59H146.30" stroke="#000" stroke-width="1.3" fill="none"/>
<rect x="132.30" y="795.99" width="18.60" height="3.31" fill="#000"/>
<text transform="translate(146.40,808.75) scale(1.07,1) rotate(-90)" font-size="14" text-anchor="end" style="font-kerning:none"><tspan letter-spacing="-0.5">no</tspan><tspan letter-spacing="1.3"> OV</tspan>A</text>
<path d="M168.53 783.08V780.69M163.83 780.69H173.23" stroke="#000" stroke-width="1.3" fill="none"/>
<rect x="159.23" y="783.08" width="18.60" height="16.22" fill="#000"/>
<text transform="translate(173.33,808.75) scale(1.07,1) rotate(-90)" font-size="14" text-anchor="end" style="font-kerning:none"><tspan letter-spacing="-0.2">CO</tspan>N</text>
<path d="M195.46 755.42V753.45M190.76 753.45H200.16" stroke="#000" stroke-width="1.3" fill="none"/>
<rect x="186.16" y="755.42" width="18.60" height="43.88" fill="#000"/>
<text transform="translate(199.56,808.75) scale(1.07,1) rotate(-90)" font-size="14" text-anchor="end" style="font-kerning:none"><tspan letter-spacing="-0.5">LP</tspan>S</text>
<path d="M222.39 739.27V737.30M217.69 737.30H227.09" stroke="#000" stroke-width="1.3" fill="none"/>
<rect x="213.09" y="739.27" width="18.60" height="60.03" fill="#000"/>
<text transform="translate(226.89,807.50) scale(1.07,1) rotate(-90)" font-size="14" text-anchor="end" style="font-kerning:none"><tspan letter-spacing="0.35">Rv2299</tspan>c</text>
<text transform="translate(74.10,817.80) rotate(-90) scale(1.08,1)" font-size="16" font-weight="bold"><tspan letter-spacing="0.2">IFN-</tspan><tspan font-family="Liberation Serif" font-style="italic" font-weight="bold" font-size="17" dx="-1.3">&#947;</tspan><tspan letter-spacing="0.45" dx="0.3"> (pg/ml)</tspan></text>
<text transform="translate(160.10,716.60) scale(1,1.04)" font-size="14.2" letter-spacing="1.0" style="font-kerning:none">OVA<tspan dy="3.2" font-size="10" letter-spacing="0.1">323-339</tspan></text>
<line x1="161.00" y1="724.70" x2="229.90" y2="724.70" stroke="#000" stroke-width="1.4"/>
<text x="196.36" y="753.30" font-size="15.8" letter-spacing="1.8" text-anchor="middle" fill="#444">***</text>
<text x="223.29" y="738.60" font-size="15.8" letter-spacing="1.8" text-anchor="middle" fill="#444">***</text>
<path d="M332.30 736.30V807.20H438.00" stroke="#000" stroke-width="1.4" fill="none" stroke-linejoin="miter"/>
<line x1="325.30" y1="807.20" x2="332.30" y2="807.20" stroke="#000" stroke-width="1.4"/>
<text transform="translate(322.70,810.60) scale(0.93,1)" font-size="15.5" text-anchor="end">0</text>
<line x1="325.30" y1="789.65" x2="332.30" y2="789.65" stroke="#000" stroke-width="1.4"/>
<text transform="translate(322.70,793.05) scale(0.93,1)" font-size="15.5" text-anchor="end">500</text>
<line x1="325.30" y1="772.10" x2="332.30" y2="772.10" stroke="#000" stroke-width="1.4"/>
<text transform="translate(322.70,775.50) scale(0.93,1)" font-size="15.5" text-anchor="end"><tspan letter-spacing="-1.2">1</tspan>000</text>
<line x1="325.30" y1="754.55" x2="332.30" y2="754.55" stroke="#000" stroke-width="1.4"/>
<text transform="translate(322.70,757.95) scale(0.93,1)" font-size="15.5" text-anchor="end"><tspan letter-spacing="-1.2">1</tspan>500</text>
<line x1="325.30" y1="737.00" x2="332.30" y2="737.00" stroke="#000" stroke-width="1.4"/>
<text transform="translate(322.70,740.40) scale(0.93,1)" font-size="15.5" text-anchor="end">2000</text>
<rect x="336.50" y="801.30" width="18.40" height="6.40" fill="#000"/>
<text transform="translate(350.50,817.05) scale(1.07,1) rotate(-90)" font-size="14" text-anchor="end" style="font-kerning:none"><tspan letter-spacing="-0.5">no</tspan><tspan letter-spacing="1.3"> OV</tspan>A</text>
<path d="M372.05 789.30V788.42M367.35 788.42H376.75" stroke="#000" stroke-width="1.3" fill="none"/>
<rect x="362.85" y="789.30" width="18.40" height="18.40" fill="#000"/>
<text transform="translate(376.85,817.05) scale(1.07,1) rotate(-90)" font-size="14" text-anchor="end" style="font-kerning:none"><tspan letter-spacing="-0.2">CO</tspan>N</text>
<path d="M398.40 773.40V772.52M393.70 772.52H403.10" stroke="#000" stroke-width="1.3" fill="none"/>
<rect x="389.20" y="773.40" width="18.40" height="34.30" fill="#000"/>
<text transform="translate(402.50,817.05) scale(1.07,1) rotate(-90)" font-size="14" text-anchor="end" style="font-kerning:none"><tspan letter-spacing="-0.5">LP</tspan>S</text>
<path d="M424.75 760.10V757.64M420.05 757.64H429.45" stroke="#000" stroke-width="1.3" fill="none"/>
<rect x="415.55" y="760.10" width="18.40" height="47.60" fill="#000"/>
<text transform="translate(429.25,815.80) scale(1.07,1) rotate(-90)" font-size="14" text-anchor="end" style="font-kerning:none"><tspan letter-spacing="0.35">Rv2299</tspan>c</text>
<text transform="translate(279.40,822.80) rotate(-90) scale(1.08,1)" font-size="16" font-weight="bold">IL-2<tspan letter-spacing="0.45" dx="0 0 0 -1.0 -0.6 -0.6 2.0 0.2"> (pg/ml)</tspan></text>
<text transform="translate(363.70,725.80) scale(1,1.04)" font-size="14.2" letter-spacing="1.0" style="font-kerning:none">OVA<tspan dy="3.2" font-size="10" letter-spacing="0.1">323-339</tspan></text>
<line x1="364.70" y1="733.80" x2="431.90" y2="733.80" stroke="#000" stroke-width="1.4"/>
<text x="399.30" y="773.10" font-size="15.8" letter-spacing="1.8" text-anchor="middle" fill="#444">**</text>
<text x="425.65" y="760.30" font-size="15.8" letter-spacing="1.8" text-anchor="middle" fill="#444">***</text>
<path d="M531.50 740.00V810.50H637.10" stroke="#000" stroke-width="1.4" fill="none" stroke-linejoin="miter"/>
<line x1="523.50" y1="810.50" x2="531.50" y2="810.50" stroke="#000" stroke-width="1.4"/>
<text transform="translate(520.90,813.90) scale(0.91,1)" font-size="15.5" text-anchor="end">0</text>
<line x1="523.50" y1="793.05" x2="531.50" y2="793.05" stroke="#000" stroke-width="1.4"/>
<text transform="translate(520.90,796.45) scale(0.91,1)" font-size="15.5" text-anchor="end">50</text>
<line x1="523.50" y1="775.60" x2="531.50" y2="775.60" stroke="#000" stroke-width="1.4"/>
<text transform="translate(520.90,779.00) scale(0.91,1)" font-size="15.5" text-anchor="end"><tspan letter-spacing="-1.2">1</tspan>00</text>
<line x1="523.50" y1="758.15" x2="531.50" y2="758.15" stroke="#000" stroke-width="1.4"/>
<text transform="translate(520.90,761.55) scale(0.91,1)" font-size="15.5" text-anchor="end"><tspan letter-spacing="-1.2">1</tspan>50</text>
<line x1="523.50" y1="740.70" x2="531.50" y2="740.70" stroke="#000" stroke-width="1.4"/>
<text transform="translate(520.90,744.10) scale(0.91,1)" font-size="15.5" text-anchor="end">200</text>
<path d="M544.40 796.54V789.73M539.70 789.73H549.10" stroke="#000" stroke-width="1.3" fill="none"/>
<rect x="535.20" y="796.54" width="18.40" height="14.46" fill="#000"/>
<text transform="translate(549.20,820.75) scale(1.07,1) rotate(-90)" font-size="14" text-anchor="end" style="font-kerning:none"><tspan letter-spacing="-0.5">no</tspan><tspan letter-spacing="1.3"> OV</tspan>A</text>
<path d="M571.00 796.19V791.90M566.30 791.90H575.70" stroke="#000" stroke-width="1.3" fill="none"/>
<rect x="561.80" y="796.19" width="18.40" height="14.81" fill="#000"/>
<text transform="translate(575.80,820.75) scale(1.07,1) rotate(-90)" font-size="14" text-anchor="end" style="font-kerning:none"><tspan letter-spacing="-0.2">CO</tspan>N</text>
<path d="M597.60 776.47V764.08M592.90 764.08H602.30" stroke="#000" stroke-width="1.3" fill="none"/>
<rect x="588.40" y="776.47" width="18.40" height="34.53" fill="#000"/>
<text transform="translate(601.70,820.75) scale(1.07,1) rotate(-90)" font-size="14" text-anchor="end" style="font-kerning:none"><tspan letter-spacing="-0.5">LP</tspan>S</text>
<path d="M624.20 799.51V797.06M619.50 797.06H628.90" stroke="#000" stroke-width="1.3" fill="none"/>
<rect x="615.00" y="799.51" width="18.40" height="11.49" fill="#000"/>
<text transform="translate(628.70,819.50) scale(1.07,1) rotate(-90)" font-size="14" text-anchor="end" style="font-kerning:none"><tspan letter-spacing="0.35">Rv2299</tspan>c</text>
<text transform="translate(484.40,825.80) rotate(-90) scale(1.08,1)" font-size="16" font-weight="bold">IL-4<tspan letter-spacing="0.45" dx="0 0 0 -1.0 -0.6 -0.6 2.0 0.2"> (pg/ml)</tspan></text>
<text transform="translate(562.70,729.20) scale(1,1.04)" font-size="14.2" letter-spacing="1.0" style="font-kerning:none">OVA<tspan dy="3.2" font-size="10" letter-spacing="0.1">323-339</tspan></text>
<line x1="563.60" y1="737.50" x2="631.90" y2="737.50" stroke="#000" stroke-width="1.4"/>
<text x="597.80" y="757.20" font-size="14.2" font-style="italic" letter-spacing="0.4" text-anchor="middle">n.s.</text>
<text x="624.40" y="789.90" font-size="14.2" font-style="italic" letter-spacing="0.4" text-anchor="middle">n.s.</text>
</svg>
</body></html>
